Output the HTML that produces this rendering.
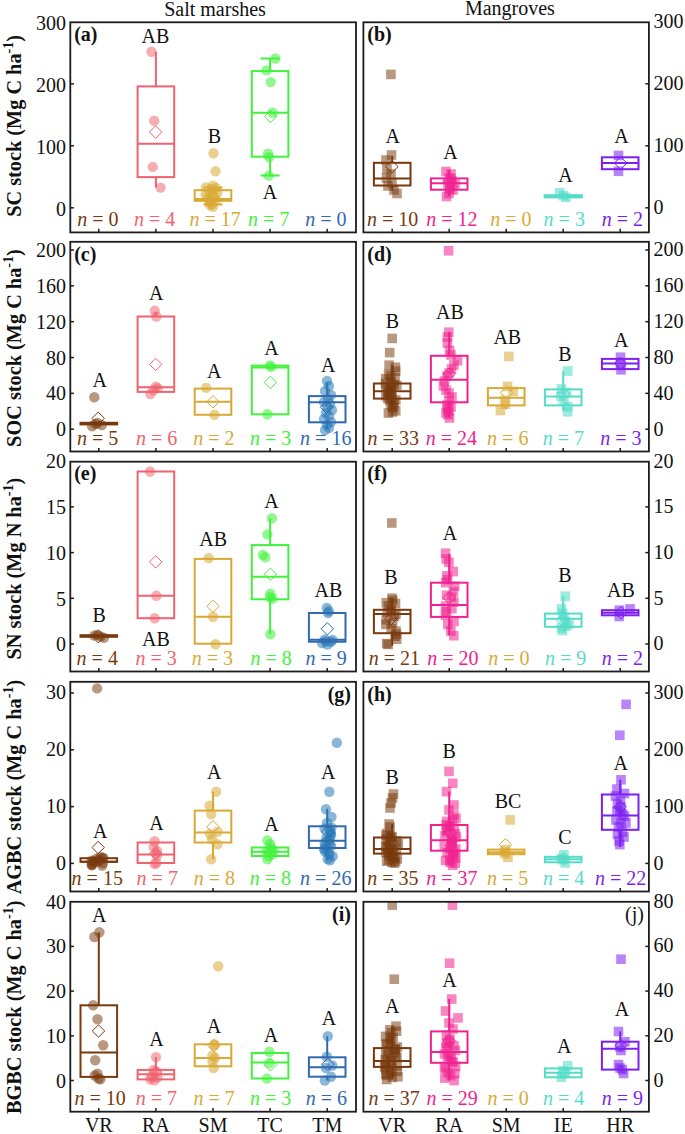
<!DOCTYPE html><html><head><meta charset="utf-8"><style>html,body{margin:0;padding:0;background:#fff;}svg{display:block}text{font-family:"Liberation Serif",serif;}</style></head><body>
<svg width="685" height="1134" viewBox="0 0 685 1134">
<rect width="685" height="1134" fill="#fff"/>
<text x="164.2" y="16" font-size="20" fill="#111">Salt marshes</text>
<text x="464.9" y="15.1" font-size="20" fill="#111">Mangroves</text>
<clipPath id="c00"><rect x="70.3" y="22.3" width="285.7" height="210.1"/></clipPath>
<g clip-path="url(#c00)">
<line x1="155.9" y1="51.8" x2="155.9" y2="86.4" stroke="#ef636e" stroke-width="2"/>
<line x1="155.9" y1="177.1" x2="155.9" y2="187.6" stroke="#ef636e" stroke-width="2"/>
<circle cx="151.5" cy="51.8" r="5.2" fill="#ef636e" fill-opacity="0.52"/>
<circle cx="154.2" cy="120.7" r="5.2" fill="#ef636e" fill-opacity="0.52"/>
<circle cx="152.8" cy="166.9" r="5.2" fill="#ef636e" fill-opacity="0.52"/>
<circle cx="160.6" cy="187.6" r="5.2" fill="#ef636e" fill-opacity="0.52"/>
<rect x="137.6" y="86.4" width="36.6" height="90.7" fill="none" stroke="#ef636e" stroke-width="2"/>
<line x1="137.6" y1="143.8" x2="174.2" y2="143.8" stroke="#ef636e" stroke-width="2"/>
<path d="M155.6 125.9L161.8 132.1L155.6 138.3L149.4 132.1Z" fill="none" stroke="#ef636e" stroke-width="1"/>
<line x1="213" y1="187.4" x2="213" y2="190.2" stroke="#d9a935" stroke-width="2"/>
<line x1="203.5" y1="187.4" x2="222.5" y2="187.4" stroke="#d9a935" stroke-width="2"/>
<line x1="213" y1="200.8" x2="213" y2="204.5" stroke="#d9a935" stroke-width="2"/>
<line x1="203.5" y1="204.5" x2="222.5" y2="204.5" stroke="#d9a935" stroke-width="2"/>
<circle cx="213.5" cy="153.3" r="5.2" fill="#d9a935" fill-opacity="0.55"/>
<circle cx="215.5" cy="171.2" r="5.2" fill="#d9a935" fill-opacity="0.55"/>
<circle cx="206" cy="187.4" r="5.2" fill="#d9a935" fill-opacity="0.55"/>
<circle cx="213" cy="185.7" r="5.2" fill="#d9a935" fill-opacity="0.55"/>
<circle cx="205.6" cy="194.4" r="5.2" fill="#d9a935" fill-opacity="0.55"/>
<circle cx="211.3" cy="192.7" r="5.2" fill="#d9a935" fill-opacity="0.55"/>
<circle cx="217.4" cy="192.7" r="5.2" fill="#d9a935" fill-opacity="0.55"/>
<circle cx="210.4" cy="199.7" r="5.2" fill="#d9a935" fill-opacity="0.55"/>
<circle cx="212.1" cy="204" r="5.2" fill="#d9a935" fill-opacity="0.55"/>
<circle cx="213" cy="206.7" r="5.2" fill="#d9a935" fill-opacity="0.55"/>
<circle cx="209" cy="202" r="5.2" fill="#d9a935" fill-opacity="0.55"/>
<circle cx="216" cy="200" r="5.2" fill="#d9a935" fill-opacity="0.55"/>
<circle cx="214" cy="197" r="5.2" fill="#d9a935" fill-opacity="0.55"/>
<circle cx="208" cy="197" r="5.2" fill="#d9a935" fill-opacity="0.55"/>
<circle cx="212" cy="189" r="5.2" fill="#d9a935" fill-opacity="0.55"/>
<circle cx="216" cy="188" r="5.2" fill="#d9a935" fill-opacity="0.55"/>
<circle cx="210" cy="205" r="5.2" fill="#d9a935" fill-opacity="0.55"/>
<rect x="194.7" y="190.2" width="36.6" height="10.6" fill="none" stroke="#d9a935" stroke-width="2"/>
<line x1="194.7" y1="199" x2="231.3" y2="199" stroke="#d9a935" stroke-width="2"/>
<path d="M212.5 189.8L218.7 196L212.5 202.2L206.3 196Z" fill="none" stroke="#d9a935" stroke-width="1"/>
<line x1="270.1" y1="58.5" x2="270.1" y2="71.1" stroke="#42f23c" stroke-width="2"/>
<line x1="260.6" y1="58.5" x2="279.6" y2="58.5" stroke="#42f23c" stroke-width="2"/>
<line x1="270.1" y1="156.7" x2="270.1" y2="175.6" stroke="#42f23c" stroke-width="2"/>
<line x1="260.6" y1="175.6" x2="279.6" y2="175.6" stroke="#42f23c" stroke-width="2"/>
<circle cx="275.4" cy="58.5" r="5.2" fill="#42f23c" fill-opacity="0.58"/>
<circle cx="266.4" cy="70.4" r="5.2" fill="#42f23c" fill-opacity="0.58"/>
<circle cx="270.7" cy="82.1" r="5.2" fill="#42f23c" fill-opacity="0.58"/>
<circle cx="272.7" cy="112.8" r="5.2" fill="#42f23c" fill-opacity="0.58"/>
<circle cx="268.1" cy="153.8" r="5.2" fill="#42f23c" fill-opacity="0.58"/>
<circle cx="269.1" cy="157.1" r="5.2" fill="#42f23c" fill-opacity="0.58"/>
<circle cx="268.7" cy="175.6" r="5.2" fill="#42f23c" fill-opacity="0.58"/>
<rect x="251.8" y="71.1" width="36.6" height="85.6" fill="none" stroke="#42f23c" stroke-width="2"/>
<line x1="251.8" y1="112.8" x2="288.4" y2="112.8" stroke="#42f23c" stroke-width="2"/>
<path d="M270.5 110.3L276.7 116.5L270.5 122.7L264.3 116.5Z" fill="none" stroke="#42f23c" stroke-width="1"/>
</g>
<text x="155.4" y="43.4" font-size="20" text-anchor="middle" fill="#111">AB</text>
<text x="214.3" y="143.2" font-size="20" text-anchor="middle" fill="#111">B</text>
<text x="270" y="198.5" font-size="20" text-anchor="middle" fill="#111">A</text>
<text x="97.95" y="226.1" font-size="20" text-anchor="middle" fill="#78390e"><tspan font-style="italic">n</tspan> = 0</text>
<text x="154.55" y="226.1" font-size="20" text-anchor="middle" fill="#ef636e"><tspan font-style="italic">n</tspan> = 4</text>
<text x="215.15" y="226.1" font-size="20" text-anchor="middle" fill="#d9a935"><tspan font-style="italic">n</tspan> = 17</text>
<text x="268.75" y="226.1" font-size="20" text-anchor="middle" fill="#42f23c"><tspan font-style="italic">n</tspan> = 7</text>
<text x="325.95" y="226.1" font-size="20" text-anchor="middle" fill="#3169b0"><tspan font-style="italic">n</tspan> = 0</text>
<rect x="70.3" y="22.3" width="285.7" height="210.1" fill="none" stroke="#1c1c1c" stroke-width="1.8"/>
<line x1="98.8" y1="232.4" x2="98.8" y2="228.8" stroke="#1c1c1c" stroke-width="1.5"/>
<line x1="155.9" y1="232.4" x2="155.9" y2="228.8" stroke="#1c1c1c" stroke-width="1.5"/>
<line x1="213" y1="232.4" x2="213" y2="228.8" stroke="#1c1c1c" stroke-width="1.5"/>
<line x1="270.1" y1="232.4" x2="270.1" y2="228.8" stroke="#1c1c1c" stroke-width="1.5"/>
<line x1="327.2" y1="232.4" x2="327.2" y2="228.8" stroke="#1c1c1c" stroke-width="1.5"/>
<line x1="70.3" y1="207.8" x2="73.9" y2="207.8" stroke="#1c1c1c" stroke-width="1.5"/>
<text x="66" y="215.8" font-size="20" text-anchor="end" fill="#111">0</text>
<line x1="70.3" y1="145.8" x2="73.9" y2="145.8" stroke="#1c1c1c" stroke-width="1.5"/>
<text x="66" y="153.8" font-size="20" text-anchor="end" fill="#111">100</text>
<line x1="70.3" y1="83.8" x2="73.9" y2="83.8" stroke="#1c1c1c" stroke-width="1.5"/>
<text x="66" y="91.8" font-size="20" text-anchor="end" fill="#111">200</text>
<text x="66" y="29.8" font-size="20" text-anchor="end" fill="#111">300</text>
<text x="74.2" y="41" font-size="20" font-weight="bold" fill="#111">(a)</text>
<clipPath id="c01"><rect x="363.4" y="22.3" width="285.5" height="210.1"/></clipPath>
<g clip-path="url(#c01)">
<line x1="392.2" y1="156" x2="392.2" y2="162.8" stroke="#78390e" stroke-width="2"/>
<line x1="392.2" y1="185.5" x2="392.2" y2="190.5" stroke="#78390e" stroke-width="2"/>
<rect x="386.1" y="69.6" width="9.6" height="9.6" fill="#78390e" fill-opacity="0.52"/>
<rect x="386.7" y="150.2" width="9.6" height="9.6" fill="#78390e" fill-opacity="0.52"/>
<rect x="381.2" y="155.2" width="9.6" height="9.6" fill="#78390e" fill-opacity="0.52"/>
<rect x="382.2" y="164.2" width="9.6" height="9.6" fill="#78390e" fill-opacity="0.52"/>
<rect x="386.2" y="169.2" width="9.6" height="9.6" fill="#78390e" fill-opacity="0.52"/>
<rect x="381.7" y="173.2" width="9.6" height="9.6" fill="#78390e" fill-opacity="0.52"/>
<rect x="387.2" y="178.2" width="9.6" height="9.6" fill="#78390e" fill-opacity="0.52"/>
<rect x="383.2" y="181.2" width="9.6" height="9.6" fill="#78390e" fill-opacity="0.52"/>
<rect x="389.2" y="185.2" width="9.6" height="9.6" fill="#78390e" fill-opacity="0.52"/>
<rect x="392.2" y="188.7" width="9.6" height="9.6" fill="#78390e" fill-opacity="0.52"/>
<rect x="373.9" y="162.8" width="36.6" height="22.7" fill="none" stroke="#78390e" stroke-width="2"/>
<line x1="373.9" y1="178.4" x2="410.5" y2="178.4" stroke="#78390e" stroke-width="2"/>
<path d="M391.9 160.5L398.1 166.7L391.9 172.9L385.7 166.7Z" fill="none" stroke="#78390e" stroke-width="1"/>
<line x1="449.2" y1="170" x2="449.2" y2="178.4" stroke="#f0228f" stroke-width="2"/>
<line x1="449.2" y1="189.7" x2="449.2" y2="196" stroke="#f0228f" stroke-width="2"/>
<rect x="441.2" y="166.7" width="9.6" height="9.6" fill="#f0228f" fill-opacity="0.55"/>
<rect x="446.2" y="169.2" width="9.6" height="9.6" fill="#f0228f" fill-opacity="0.55"/>
<rect x="444.2" y="173.2" width="9.6" height="9.6" fill="#f0228f" fill-opacity="0.55"/>
<rect x="447.2" y="176.2" width="9.6" height="9.6" fill="#f0228f" fill-opacity="0.55"/>
<rect x="443.2" y="179.2" width="9.6" height="9.6" fill="#f0228f" fill-opacity="0.55"/>
<rect x="445.2" y="182.2" width="9.6" height="9.6" fill="#f0228f" fill-opacity="0.55"/>
<rect x="448.2" y="185.2" width="9.6" height="9.6" fill="#f0228f" fill-opacity="0.55"/>
<rect x="444.2" y="188.7" width="9.6" height="9.6" fill="#f0228f" fill-opacity="0.55"/>
<rect x="441.7" y="191.7" width="9.6" height="9.6" fill="#f0228f" fill-opacity="0.55"/>
<rect x="450.2" y="179.2" width="9.6" height="9.6" fill="#f0228f" fill-opacity="0.55"/>
<rect x="446.2" y="173.7" width="9.6" height="9.6" fill="#f0228f" fill-opacity="0.55"/>
<rect x="445.2" y="184.2" width="9.6" height="9.6" fill="#f0228f" fill-opacity="0.55"/>
<rect x="430.9" y="178.4" width="36.6" height="11.3" fill="none" stroke="#f0228f" stroke-width="2"/>
<line x1="430.9" y1="183.2" x2="467.5" y2="183.2" stroke="#f0228f" stroke-width="2"/>
<path d="M449 174.8L455.2 181L449 187.2L442.8 181Z" fill="none" stroke="#f0228f" stroke-width="1"/>
<rect x="555" y="188" width="9.6" height="9.6" fill="#55dcc8" fill-opacity="0.58"/>
<rect x="561.1" y="192.6" width="9.6" height="9.6" fill="#55dcc8" fill-opacity="0.58"/>
<rect x="558.5" y="190.8" width="9.6" height="9.6" fill="#55dcc8" fill-opacity="0.58"/>
<rect x="544.6" y="195.2" width="37.2" height="2.2" fill="none" stroke="#55dcc8" stroke-width="2"/>
<line x1="544.6" y1="196.3" x2="581.8" y2="196.3" stroke="#55dcc8" stroke-width="2"/>
<rect x="613.7" y="150.7" width="9.6" height="9.6" fill="#7d1ff0" fill-opacity="0.55"/>
<rect x="613.7" y="166.5" width="9.6" height="9.6" fill="#7d1ff0" fill-opacity="0.55"/>
<rect x="601.9" y="157.3" width="36.6" height="11.9" fill="none" stroke="#7d1ff0" stroke-width="2"/>
<line x1="601.9" y1="163.1" x2="638.5" y2="163.1" stroke="#7d1ff0" stroke-width="2"/>
<path d="M620.6 156.9L626.8 163.1L620.6 169.3L614.4 163.1Z" fill="none" stroke="#7d1ff0" stroke-width="1"/>
</g>
<text x="392.7" y="142.7" font-size="20" text-anchor="middle" fill="#111">A</text>
<text x="450.5" y="159" font-size="20" text-anchor="middle" fill="#111">A</text>
<text x="565.4" y="182.2" font-size="20" text-anchor="middle" fill="#111">A</text>
<text x="621.4" y="143.3" font-size="20" text-anchor="middle" fill="#111">A</text>
<text x="392.55" y="226.1" font-size="20" text-anchor="middle" fill="#78390e"><tspan font-style="italic">n</tspan> = 10</text>
<text x="451.9" y="226.1" font-size="20" text-anchor="middle" fill="#f0228f"><tspan font-style="italic">n</tspan> = 12</text>
<text x="510.8" y="226.1" font-size="20" text-anchor="middle" fill="#d9a935"><tspan font-style="italic">n</tspan> = 0</text>
<text x="564.25" y="226.1" font-size="20" text-anchor="middle" fill="#55dcc8"><tspan font-style="italic">n</tspan> = 3</text>
<text x="622.35" y="226.1" font-size="20" text-anchor="middle" fill="#7d1ff0"><tspan font-style="italic">n</tspan> = 2</text>
<rect x="363.4" y="22.3" width="285.5" height="210.1" fill="none" stroke="#1c1c1c" stroke-width="1.8"/>
<line x1="392.2" y1="232.4" x2="392.2" y2="228.8" stroke="#1c1c1c" stroke-width="1.5"/>
<line x1="449.2" y1="232.4" x2="449.2" y2="228.8" stroke="#1c1c1c" stroke-width="1.5"/>
<line x1="506.2" y1="232.4" x2="506.2" y2="228.8" stroke="#1c1c1c" stroke-width="1.5"/>
<line x1="563.2" y1="232.4" x2="563.2" y2="228.8" stroke="#1c1c1c" stroke-width="1.5"/>
<line x1="620.2" y1="232.4" x2="620.2" y2="228.8" stroke="#1c1c1c" stroke-width="1.5"/>
<line x1="648.9" y1="207.8" x2="645.3" y2="207.8" stroke="#1c1c1c" stroke-width="1.5"/>
<text x="653.6" y="214.4" font-size="20" fill="#111">0</text>
<line x1="648.9" y1="145.8" x2="645.3" y2="145.8" stroke="#1c1c1c" stroke-width="1.5"/>
<text x="653.6" y="152.4" font-size="20" fill="#111">100</text>
<line x1="648.9" y1="83.8" x2="645.3" y2="83.8" stroke="#1c1c1c" stroke-width="1.5"/>
<text x="653.6" y="90.4" font-size="20" fill="#111">200</text>
<text x="653.6" y="28.4" font-size="20" fill="#111">300</text>
<text x="367.3" y="41" font-size="20" font-weight="bold" fill="#111">(b)</text>
<clipPath id="c10"><rect x="70.3" y="241.8" width="285.7" height="209.7"/></clipPath>
<g clip-path="url(#c10)">
<circle cx="94.3" cy="397.2" r="5.2" fill="#78390e" fill-opacity="0.52"/>
<circle cx="95.4" cy="424" r="5.2" fill="#78390e" fill-opacity="0.52"/>
<circle cx="101.8" cy="425.1" r="5.2" fill="#78390e" fill-opacity="0.52"/>
<circle cx="92.2" cy="426.2" r="5.2" fill="#78390e" fill-opacity="0.52"/>
<circle cx="97.5" cy="423" r="5.2" fill="#78390e" fill-opacity="0.52"/>
<rect x="80.5" y="422.8" width="36.6" height="1.6" fill="none" stroke="#78390e" stroke-width="2"/>
<line x1="80.5" y1="423.6" x2="117.1" y2="423.6" stroke="#78390e" stroke-width="2"/>
<path d="M98.2 412.1L104.4 418.3L98.2 424.5L92 418.3Z" fill="none" stroke="#78390e" stroke-width="1"/>
<line x1="155.9" y1="311.9" x2="155.9" y2="316.5" stroke="#ef636e" stroke-width="2"/>
<circle cx="154.7" cy="310.8" r="5.2" fill="#ef636e" fill-opacity="0.52"/>
<circle cx="156.4" cy="316.5" r="5.2" fill="#ef636e" fill-opacity="0.52"/>
<circle cx="155.7" cy="386.6" r="5.2" fill="#ef636e" fill-opacity="0.52"/>
<circle cx="157.8" cy="388.1" r="5.2" fill="#ef636e" fill-opacity="0.52"/>
<circle cx="150.4" cy="394" r="5.2" fill="#ef636e" fill-opacity="0.52"/>
<circle cx="153.6" cy="390.2" r="5.2" fill="#ef636e" fill-opacity="0.52"/>
<rect x="137.6" y="316.5" width="36.6" height="75.4" fill="none" stroke="#ef636e" stroke-width="2"/>
<line x1="137.6" y1="387.2" x2="174.2" y2="387.2" stroke="#ef636e" stroke-width="2"/>
<path d="M155.7 358.2L161.9 364.4L155.7 370.6L149.5 364.4Z" fill="none" stroke="#ef636e" stroke-width="1"/>
<circle cx="206.2" cy="387.9" r="5.2" fill="#d9a935" fill-opacity="0.55"/>
<circle cx="214.5" cy="414.8" r="5.2" fill="#d9a935" fill-opacity="0.55"/>
<rect x="194.7" y="388.6" width="36.6" height="26.2" fill="none" stroke="#d9a935" stroke-width="2"/>
<line x1="194.7" y1="401.8" x2="231.3" y2="401.8" stroke="#d9a935" stroke-width="2"/>
<path d="M213 395.6L219.2 401.8L213 408L206.8 401.8Z" fill="none" stroke="#d9a935" stroke-width="1"/>
<circle cx="269.9" cy="365.4" r="5.2" fill="#42f23c" fill-opacity="0.58"/>
<circle cx="271.1" cy="366.9" r="5.2" fill="#42f23c" fill-opacity="0.58"/>
<circle cx="267.4" cy="414.3" r="5.2" fill="#42f23c" fill-opacity="0.58"/>
<rect x="251.8" y="365.6" width="36.6" height="48.7" fill="none" stroke="#42f23c" stroke-width="2"/>
<line x1="251.8" y1="367.6" x2="288.4" y2="367.6" stroke="#42f23c" stroke-width="2"/>
<path d="M270.4 376.2L276.6 382.4L270.4 388.6L264.2 382.4Z" fill="none" stroke="#42f23c" stroke-width="1"/>
<line x1="327.2" y1="382.4" x2="327.2" y2="396.1" stroke="#3169b0" stroke-width="2"/>
<line x1="327.2" y1="422.3" x2="327.2" y2="429" stroke="#3169b0" stroke-width="2"/>
<circle cx="327" cy="381" r="5.2" fill="#2a7cb8" fill-opacity="0.55"/>
<circle cx="329" cy="386" r="5.2" fill="#2a7cb8" fill-opacity="0.55"/>
<circle cx="325" cy="391" r="5.2" fill="#2a7cb8" fill-opacity="0.55"/>
<circle cx="331" cy="395" r="5.2" fill="#2a7cb8" fill-opacity="0.55"/>
<circle cx="328" cy="399" r="5.2" fill="#2a7cb8" fill-opacity="0.55"/>
<circle cx="324" cy="402" r="5.2" fill="#2a7cb8" fill-opacity="0.55"/>
<circle cx="330" cy="404" r="5.2" fill="#2a7cb8" fill-opacity="0.55"/>
<circle cx="327" cy="407" r="5.2" fill="#2a7cb8" fill-opacity="0.55"/>
<circle cx="332" cy="410" r="5.2" fill="#2a7cb8" fill-opacity="0.55"/>
<circle cx="326" cy="413" r="5.2" fill="#2a7cb8" fill-opacity="0.55"/>
<circle cx="329" cy="416" r="5.2" fill="#2a7cb8" fill-opacity="0.55"/>
<circle cx="324" cy="419" r="5.2" fill="#2a7cb8" fill-opacity="0.55"/>
<circle cx="331" cy="422" r="5.2" fill="#2a7cb8" fill-opacity="0.55"/>
<circle cx="327" cy="425" r="5.2" fill="#2a7cb8" fill-opacity="0.55"/>
<circle cx="329" cy="428" r="5.2" fill="#2a7cb8" fill-opacity="0.55"/>
<circle cx="325" cy="430" r="5.2" fill="#2a7cb8" fill-opacity="0.55"/>
<rect x="308.9" y="396.1" width="36.6" height="26.2" fill="none" stroke="#3169b0" stroke-width="2"/>
<line x1="308.9" y1="402.3" x2="345.5" y2="402.3" stroke="#3169b0" stroke-width="2"/>
<path d="M326.5 401.1L332.7 407.3L326.5 413.5L320.3 407.3Z" fill="none" stroke="#3169b0" stroke-width="1"/>
</g>
<text x="99.7" y="387" font-size="20" text-anchor="middle" fill="#111">A</text>
<text x="156.3" y="300.2" font-size="20" text-anchor="middle" fill="#111">A</text>
<text x="214.3" y="377.9" font-size="20" text-anchor="middle" fill="#111">A</text>
<text x="271.4" y="354.9" font-size="20" text-anchor="middle" fill="#111">A</text>
<text x="328.3" y="372.4" font-size="20" text-anchor="middle" fill="#111">A</text>
<text x="97.55" y="445.2" font-size="20" text-anchor="middle" fill="#78390e"><tspan font-style="italic">n</tspan> = 5</text>
<text x="156.55" y="445.2" font-size="20" text-anchor="middle" fill="#ef636e"><tspan font-style="italic">n</tspan> = 6</text>
<text x="213.85" y="445.2" font-size="20" text-anchor="middle" fill="#d9a935"><tspan font-style="italic">n</tspan> = 2</text>
<text x="270.55" y="445.2" font-size="20" text-anchor="middle" fill="#42f23c"><tspan font-style="italic">n</tspan> = 3</text>
<text x="325.75" y="445.2" font-size="20" text-anchor="middle" fill="#3169b0"><tspan font-style="italic">n</tspan> = 16</text>
<rect x="70.3" y="241.8" width="285.7" height="209.7" fill="none" stroke="#1c1c1c" stroke-width="1.8"/>
<line x1="98.8" y1="451.5" x2="98.8" y2="447.9" stroke="#1c1c1c" stroke-width="1.5"/>
<line x1="155.9" y1="451.5" x2="155.9" y2="447.9" stroke="#1c1c1c" stroke-width="1.5"/>
<line x1="213" y1="451.5" x2="213" y2="447.9" stroke="#1c1c1c" stroke-width="1.5"/>
<line x1="270.1" y1="451.5" x2="270.1" y2="447.9" stroke="#1c1c1c" stroke-width="1.5"/>
<line x1="327.2" y1="451.5" x2="327.2" y2="447.9" stroke="#1c1c1c" stroke-width="1.5"/>
<line x1="70.3" y1="429.2" x2="73.9" y2="429.2" stroke="#1c1c1c" stroke-width="1.5"/>
<text x="66" y="436.3" font-size="20" text-anchor="end" fill="#111">0</text>
<line x1="70.3" y1="393.36" x2="73.9" y2="393.36" stroke="#1c1c1c" stroke-width="1.5"/>
<text x="66" y="400.46" font-size="20" text-anchor="end" fill="#111">40</text>
<line x1="70.3" y1="357.52" x2="73.9" y2="357.52" stroke="#1c1c1c" stroke-width="1.5"/>
<text x="66" y="364.62" font-size="20" text-anchor="end" fill="#111">80</text>
<line x1="70.3" y1="321.68" x2="73.9" y2="321.68" stroke="#1c1c1c" stroke-width="1.5"/>
<text x="66" y="328.78" font-size="20" text-anchor="end" fill="#111">120</text>
<line x1="70.3" y1="285.84" x2="73.9" y2="285.84" stroke="#1c1c1c" stroke-width="1.5"/>
<text x="66" y="292.94" font-size="20" text-anchor="end" fill="#111">160</text>
<line x1="70.3" y1="250" x2="73.9" y2="250" stroke="#1c1c1c" stroke-width="1.5"/>
<text x="66" y="257.1" font-size="20" text-anchor="end" fill="#111">200</text>
<text x="74.2" y="260.5" font-size="20" font-weight="bold" fill="#111">(c)</text>
<clipPath id="c11"><rect x="363.4" y="241.8" width="285.5" height="209.7"/></clipPath>
<g clip-path="url(#c11)">
<line x1="392.2" y1="365.2" x2="392.2" y2="383.5" stroke="#78390e" stroke-width="2"/>
<line x1="392.2" y1="398.6" x2="392.2" y2="407" stroke="#78390e" stroke-width="2"/>
<rect x="387.4" y="333.6" width="9.6" height="9.6" fill="#78390e" fill-opacity="0.52"/>
<rect x="384.9" y="347.8" width="9.6" height="9.6" fill="#78390e" fill-opacity="0.52"/>
<rect x="384.3" y="360.4" width="9.6" height="9.6" fill="#78390e" fill-opacity="0.52"/>
<rect x="390.6" y="362.5" width="9.6" height="9.6" fill="#78390e" fill-opacity="0.52"/>
<rect x="390.9" y="366.4" width="9.6" height="9.6" fill="#78390e" fill-opacity="0.52"/>
<rect x="383.8" y="369.5" width="9.6" height="9.6" fill="#78390e" fill-opacity="0.52"/>
<rect x="386.1" y="370.8" width="9.6" height="9.6" fill="#78390e" fill-opacity="0.52"/>
<rect x="390.2" y="373" width="9.6" height="9.6" fill="#78390e" fill-opacity="0.52"/>
<rect x="381" y="373.8" width="9.6" height="9.6" fill="#78390e" fill-opacity="0.52"/>
<rect x="385.9" y="377" width="9.6" height="9.6" fill="#78390e" fill-opacity="0.52"/>
<rect x="380.7" y="378.8" width="9.6" height="9.6" fill="#78390e" fill-opacity="0.52"/>
<rect x="389.4" y="379.7" width="9.6" height="9.6" fill="#78390e" fill-opacity="0.52"/>
<rect x="392" y="380.6" width="9.6" height="9.6" fill="#78390e" fill-opacity="0.52"/>
<rect x="381.1" y="382.5" width="9.6" height="9.6" fill="#78390e" fill-opacity="0.52"/>
<rect x="387.2" y="382.6" width="9.6" height="9.6" fill="#78390e" fill-opacity="0.52"/>
<rect x="385.3" y="384.8" width="9.6" height="9.6" fill="#78390e" fill-opacity="0.52"/>
<rect x="385.8" y="385.1" width="9.6" height="9.6" fill="#78390e" fill-opacity="0.52"/>
<rect x="383.4" y="386" width="9.6" height="9.6" fill="#78390e" fill-opacity="0.52"/>
<rect x="386.6" y="387.6" width="9.6" height="9.6" fill="#78390e" fill-opacity="0.52"/>
<rect x="383.5" y="388.5" width="9.6" height="9.6" fill="#78390e" fill-opacity="0.52"/>
<rect x="386.2" y="389.6" width="9.6" height="9.6" fill="#78390e" fill-opacity="0.52"/>
<rect x="381" y="390.9" width="9.6" height="9.6" fill="#78390e" fill-opacity="0.52"/>
<rect x="387.4" y="392.6" width="9.6" height="9.6" fill="#78390e" fill-opacity="0.52"/>
<rect x="382.9" y="393.5" width="9.6" height="9.6" fill="#78390e" fill-opacity="0.52"/>
<rect x="391" y="395.1" width="9.6" height="9.6" fill="#78390e" fill-opacity="0.52"/>
<rect x="384.7" y="395.2" width="9.6" height="9.6" fill="#78390e" fill-opacity="0.52"/>
<rect x="389.2" y="397.6" width="9.6" height="9.6" fill="#78390e" fill-opacity="0.52"/>
<rect x="385.8" y="400.1" width="9.6" height="9.6" fill="#78390e" fill-opacity="0.52"/>
<rect x="388.7" y="401.9" width="9.6" height="9.6" fill="#78390e" fill-opacity="0.52"/>
<rect x="387.8" y="402.8" width="9.6" height="9.6" fill="#78390e" fill-opacity="0.52"/>
<rect x="390.9" y="406" width="9.6" height="9.6" fill="#78390e" fill-opacity="0.52"/>
<rect x="387.8" y="407.2" width="9.6" height="9.6" fill="#78390e" fill-opacity="0.52"/>
<rect x="383.6" y="408.3" width="9.6" height="9.6" fill="#78390e" fill-opacity="0.52"/>
<rect x="373.9" y="383.5" width="36.6" height="15.1" fill="none" stroke="#78390e" stroke-width="2"/>
<line x1="373.9" y1="391.3" x2="410.5" y2="391.3" stroke="#78390e" stroke-width="2"/>
<path d="M392 377.8L398.2 384L392 390.2L385.8 384Z" fill="none" stroke="#78390e" stroke-width="1"/>
<line x1="449.2" y1="331.8" x2="449.2" y2="355.8" stroke="#f0228f" stroke-width="2"/>
<line x1="449.2" y1="402.3" x2="449.2" y2="417.4" stroke="#f0228f" stroke-width="2"/>
<rect x="443.8" y="246" width="9.6" height="9.6" fill="#f0228f" fill-opacity="0.55"/>
<rect x="444" y="327.4" width="9.6" height="9.6" fill="#f0228f" fill-opacity="0.55"/>
<rect x="442.6" y="332.2" width="9.6" height="9.6" fill="#f0228f" fill-opacity="0.55"/>
<rect x="442.6" y="338.3" width="9.6" height="9.6" fill="#f0228f" fill-opacity="0.55"/>
<rect x="444.8" y="345.6" width="9.6" height="9.6" fill="#f0228f" fill-opacity="0.55"/>
<rect x="446.2" y="350.2" width="9.6" height="9.6" fill="#f0228f" fill-opacity="0.55"/>
<rect x="452.8" y="355.9" width="9.6" height="9.6" fill="#f0228f" fill-opacity="0.55"/>
<rect x="449.1" y="360.2" width="9.6" height="9.6" fill="#f0228f" fill-opacity="0.55"/>
<rect x="446.7" y="364.2" width="9.6" height="9.6" fill="#f0228f" fill-opacity="0.55"/>
<rect x="444.2" y="368.2" width="9.6" height="9.6" fill="#f0228f" fill-opacity="0.55"/>
<rect x="442.2" y="371.2" width="9.6" height="9.6" fill="#f0228f" fill-opacity="0.55"/>
<rect x="439.7" y="376.2" width="9.6" height="9.6" fill="#f0228f" fill-opacity="0.55"/>
<rect x="438.7" y="381.2" width="9.6" height="9.6" fill="#f0228f" fill-opacity="0.55"/>
<rect x="441.2" y="385.2" width="9.6" height="9.6" fill="#f0228f" fill-opacity="0.55"/>
<rect x="444.2" y="388.2" width="9.6" height="9.6" fill="#f0228f" fill-opacity="0.55"/>
<rect x="447.2" y="392.2" width="9.6" height="9.6" fill="#f0228f" fill-opacity="0.55"/>
<rect x="444.2" y="396.2" width="9.6" height="9.6" fill="#f0228f" fill-opacity="0.55"/>
<rect x="442.2" y="400.2" width="9.6" height="9.6" fill="#f0228f" fill-opacity="0.55"/>
<rect x="442.6" y="404" width="9.6" height="9.6" fill="#f0228f" fill-opacity="0.55"/>
<rect x="444.2" y="406.2" width="9.6" height="9.6" fill="#f0228f" fill-opacity="0.55"/>
<rect x="443.3" y="409.9" width="9.6" height="9.6" fill="#f0228f" fill-opacity="0.55"/>
<rect x="441.2" y="408.2" width="9.6" height="9.6" fill="#f0228f" fill-opacity="0.55"/>
<rect x="444.7" y="413.2" width="9.6" height="9.6" fill="#f0228f" fill-opacity="0.55"/>
<rect x="446.2" y="402.2" width="9.6" height="9.6" fill="#f0228f" fill-opacity="0.55"/>
<rect x="430.9" y="355.8" width="36.6" height="46.5" fill="none" stroke="#f0228f" stroke-width="2"/>
<line x1="430.9" y1="379.8" x2="467.5" y2="379.8" stroke="#f0228f" stroke-width="2"/>
<path d="M449.2 367.8L455.4 374L449.2 380.2L443 374Z" fill="none" stroke="#f0228f" stroke-width="1"/>
<line x1="506.2" y1="405.4" x2="506.2" y2="409.2" stroke="#d9a935" stroke-width="2"/>
<rect x="504" y="351.6" width="9.6" height="9.6" fill="#d9a935" fill-opacity="0.55"/>
<rect x="502.7" y="381.6" width="9.6" height="9.6" fill="#d9a935" fill-opacity="0.55"/>
<rect x="508.3" y="386.6" width="9.6" height="9.6" fill="#d9a935" fill-opacity="0.55"/>
<rect x="500.2" y="395.5" width="9.6" height="9.6" fill="#d9a935" fill-opacity="0.55"/>
<rect x="500.7" y="399.3" width="9.6" height="9.6" fill="#d9a935" fill-opacity="0.55"/>
<rect x="495.6" y="405.7" width="9.6" height="9.6" fill="#d9a935" fill-opacity="0.55"/>
<rect x="487.9" y="388.1" width="36.6" height="17.3" fill="none" stroke="#d9a935" stroke-width="2"/>
<line x1="487.9" y1="397.8" x2="524.5" y2="397.8" stroke="#d9a935" stroke-width="2"/>
<path d="M506.7 386.5L512.9 392.7L506.7 398.9L500.5 392.7Z" fill="none" stroke="#d9a935" stroke-width="1"/>
<line x1="563.2" y1="371.1" x2="563.2" y2="389.4" stroke="#55dcc8" stroke-width="2"/>
<line x1="563.2" y1="405.4" x2="563.2" y2="410.5" stroke="#55dcc8" stroke-width="2"/>
<rect x="562.9" y="366.3" width="9.6" height="9.6" fill="#55dcc8" fill-opacity="0.58"/>
<rect x="556.6" y="384.1" width="9.6" height="9.6" fill="#55dcc8" fill-opacity="0.58"/>
<rect x="561.7" y="387.7" width="9.6" height="9.6" fill="#55dcc8" fill-opacity="0.58"/>
<rect x="556.2" y="391.7" width="9.6" height="9.6" fill="#55dcc8" fill-opacity="0.58"/>
<rect x="559.2" y="395.7" width="9.6" height="9.6" fill="#55dcc8" fill-opacity="0.58"/>
<rect x="562.9" y="401.9" width="9.6" height="9.6" fill="#55dcc8" fill-opacity="0.58"/>
<rect x="562.9" y="407" width="9.6" height="9.6" fill="#55dcc8" fill-opacity="0.58"/>
<rect x="544.9" y="389.4" width="36.6" height="16" fill="none" stroke="#55dcc8" stroke-width="2"/>
<line x1="544.9" y1="396.5" x2="581.5" y2="396.5" stroke="#55dcc8" stroke-width="2"/>
<path d="M563.9 387.8L570.1 394L563.9 400.2L557.7 394Z" fill="none" stroke="#55dcc8" stroke-width="1"/>
<rect x="615.7" y="352.4" width="9.6" height="9.6" fill="#7d1ff0" fill-opacity="0.55"/>
<rect x="615.7" y="360" width="9.6" height="9.6" fill="#7d1ff0" fill-opacity="0.55"/>
<rect x="616.2" y="365" width="9.6" height="9.6" fill="#7d1ff0" fill-opacity="0.55"/>
<rect x="601.9" y="358.9" width="36.6" height="10.2" fill="none" stroke="#7d1ff0" stroke-width="2"/>
<line x1="601.9" y1="363.5" x2="638.5" y2="363.5" stroke="#7d1ff0" stroke-width="2"/>
<path d="M620.6 357.3L626.8 363.5L620.6 369.7L614.4 363.5Z" fill="none" stroke="#7d1ff0" stroke-width="1"/>
</g>
<text x="392.5" y="327.6" font-size="20" text-anchor="middle" fill="#111">B</text>
<text x="450" y="318.8" font-size="20" text-anchor="middle" fill="#111">AB</text>
<text x="507.3" y="344.4" font-size="20" text-anchor="middle" fill="#111">AB</text>
<text x="565" y="361" font-size="20" text-anchor="middle" fill="#111">B</text>
<text x="621.3" y="347" font-size="20" text-anchor="middle" fill="#111">A</text>
<text x="393.25" y="445.2" font-size="20" text-anchor="middle" fill="#78390e"><tspan font-style="italic">n</tspan> = 33</text>
<text x="451.4" y="445.2" font-size="20" text-anchor="middle" fill="#f0228f"><tspan font-style="italic">n</tspan> = 24</text>
<text x="507.75" y="445.2" font-size="20" text-anchor="middle" fill="#d9a935"><tspan font-style="italic">n</tspan> = 6</text>
<text x="563.35" y="445.2" font-size="20" text-anchor="middle" fill="#55dcc8"><tspan font-style="italic">n</tspan> = 7</text>
<text x="620.85" y="445.2" font-size="20" text-anchor="middle" fill="#7d1ff0"><tspan font-style="italic">n</tspan> = 3</text>
<rect x="363.4" y="241.8" width="285.5" height="209.7" fill="none" stroke="#1c1c1c" stroke-width="1.8"/>
<line x1="392.2" y1="451.5" x2="392.2" y2="447.9" stroke="#1c1c1c" stroke-width="1.5"/>
<line x1="449.2" y1="451.5" x2="449.2" y2="447.9" stroke="#1c1c1c" stroke-width="1.5"/>
<line x1="506.2" y1="451.5" x2="506.2" y2="447.9" stroke="#1c1c1c" stroke-width="1.5"/>
<line x1="563.2" y1="451.5" x2="563.2" y2="447.9" stroke="#1c1c1c" stroke-width="1.5"/>
<line x1="620.2" y1="451.5" x2="620.2" y2="447.9" stroke="#1c1c1c" stroke-width="1.5"/>
<line x1="648.9" y1="429.2" x2="645.3" y2="429.2" stroke="#1c1c1c" stroke-width="1.5"/>
<text x="653.6" y="435.5" font-size="20" fill="#111">0</text>
<line x1="648.9" y1="393.36" x2="645.3" y2="393.36" stroke="#1c1c1c" stroke-width="1.5"/>
<text x="653.6" y="399.66" font-size="20" fill="#111">40</text>
<line x1="648.9" y1="357.52" x2="645.3" y2="357.52" stroke="#1c1c1c" stroke-width="1.5"/>
<text x="653.6" y="363.82" font-size="20" fill="#111">80</text>
<line x1="648.9" y1="321.68" x2="645.3" y2="321.68" stroke="#1c1c1c" stroke-width="1.5"/>
<text x="653.6" y="327.98" font-size="20" fill="#111">120</text>
<line x1="648.9" y1="285.84" x2="645.3" y2="285.84" stroke="#1c1c1c" stroke-width="1.5"/>
<text x="653.6" y="292.14" font-size="20" fill="#111">160</text>
<line x1="648.9" y1="250" x2="645.3" y2="250" stroke="#1c1c1c" stroke-width="1.5"/>
<text x="653.6" y="256.3" font-size="20" fill="#111">200</text>
<text x="367.3" y="260.5" font-size="20" font-weight="bold" fill="#111">(d)</text>
<clipPath id="c20"><rect x="70.3" y="461.7" width="285.7" height="209.8"/></clipPath>
<g clip-path="url(#c20)">
<circle cx="94.3" cy="635.6" r="5.2" fill="#78390e" fill-opacity="0.52"/>
<circle cx="97.5" cy="634.8" r="5.2" fill="#78390e" fill-opacity="0.52"/>
<circle cx="100.6" cy="636.6" r="5.2" fill="#78390e" fill-opacity="0.52"/>
<circle cx="103.9" cy="637.7" r="5.2" fill="#78390e" fill-opacity="0.52"/>
<rect x="80.5" y="635.2" width="36.6" height="1.6" fill="none" stroke="#78390e" stroke-width="2"/>
<line x1="80.5" y1="636" x2="117.1" y2="636" stroke="#78390e" stroke-width="2"/>
<path d="M98.2 630.4L104.4 636.6L98.2 642.8L92 636.6Z" fill="none" stroke="#78390e" stroke-width="1"/>
<circle cx="150" cy="471.5" r="5.2" fill="#ef636e" fill-opacity="0.52"/>
<circle cx="156.4" cy="595.8" r="5.2" fill="#ef636e" fill-opacity="0.52"/>
<circle cx="154.7" cy="618.2" r="5.2" fill="#ef636e" fill-opacity="0.52"/>
<rect x="137.6" y="471.5" width="36.6" height="146.7" fill="none" stroke="#ef636e" stroke-width="2"/>
<line x1="137.6" y1="595.8" x2="174.2" y2="595.8" stroke="#ef636e" stroke-width="2"/>
<path d="M155.7 555.7L161.9 561.9L155.7 568.1L149.5 561.9Z" fill="none" stroke="#ef636e" stroke-width="1"/>
<circle cx="208.7" cy="558.1" r="5.2" fill="#d9a935" fill-opacity="0.55"/>
<circle cx="213" cy="616.8" r="5.2" fill="#d9a935" fill-opacity="0.55"/>
<circle cx="215.5" cy="644.2" r="5.2" fill="#d9a935" fill-opacity="0.55"/>
<rect x="194.7" y="558.9" width="36.6" height="84.8" fill="none" stroke="#d9a935" stroke-width="2"/>
<line x1="194.7" y1="616.8" x2="231.3" y2="616.8" stroke="#d9a935" stroke-width="2"/>
<path d="M213 600.1L219.2 606.3L213 612.5L206.8 606.3Z" fill="none" stroke="#d9a935" stroke-width="1"/>
<line x1="270.1" y1="518.2" x2="270.1" y2="545.1" stroke="#42f23c" stroke-width="2"/>
<line x1="270.1" y1="599.3" x2="270.1" y2="634.2" stroke="#42f23c" stroke-width="2"/>
<circle cx="271.9" cy="518.2" r="5.2" fill="#42f23c" fill-opacity="0.58"/>
<circle cx="267.4" cy="534.4" r="5.2" fill="#42f23c" fill-opacity="0.58"/>
<circle cx="262.9" cy="554.9" r="5.2" fill="#42f23c" fill-opacity="0.58"/>
<circle cx="265.4" cy="557.4" r="5.2" fill="#42f23c" fill-opacity="0.58"/>
<circle cx="270.4" cy="593.8" r="5.2" fill="#42f23c" fill-opacity="0.58"/>
<circle cx="272.4" cy="598.8" r="5.2" fill="#42f23c" fill-opacity="0.58"/>
<circle cx="270" cy="597" r="5.2" fill="#42f23c" fill-opacity="0.58"/>
<circle cx="270.4" cy="634.2" r="5.2" fill="#42f23c" fill-opacity="0.58"/>
<rect x="251.8" y="545.1" width="36.6" height="54.2" fill="none" stroke="#42f23c" stroke-width="2"/>
<line x1="251.8" y1="576.8" x2="288.4" y2="576.8" stroke="#42f23c" stroke-width="2"/>
<path d="M270.4 568.1L276.6 574.3L270.4 580.5L264.2 574.3Z" fill="none" stroke="#42f23c" stroke-width="1"/>
<circle cx="326.8" cy="608" r="5.2" fill="#2a7cb8" fill-opacity="0.55"/>
<circle cx="328" cy="613" r="5.2" fill="#2a7cb8" fill-opacity="0.55"/>
<circle cx="326" cy="641.2" r="5.2" fill="#2a7cb8" fill-opacity="0.55"/>
<circle cx="331" cy="641.8" r="5.2" fill="#2a7cb8" fill-opacity="0.55"/>
<circle cx="322" cy="643" r="5.2" fill="#2a7cb8" fill-opacity="0.55"/>
<circle cx="327.5" cy="644.5" r="5.2" fill="#2a7cb8" fill-opacity="0.55"/>
<circle cx="332.5" cy="640" r="5.2" fill="#2a7cb8" fill-opacity="0.55"/>
<circle cx="328.8" cy="611" r="5.2" fill="#2a7cb8" fill-opacity="0.55"/>
<circle cx="324.8" cy="639.5" r="5.2" fill="#2a7cb8" fill-opacity="0.55"/>
<rect x="308.9" y="613" width="36.6" height="28.7" fill="none" stroke="#3169b0" stroke-width="2"/>
<line x1="308.9" y1="639.7" x2="345.5" y2="639.7" stroke="#3169b0" stroke-width="2"/>
<path d="M327.3 622.6L333.5 628.8L327.3 635L321.1 628.8Z" fill="none" stroke="#3169b0" stroke-width="1"/>
</g>
<text x="99.1" y="621.8" font-size="20" text-anchor="middle" fill="#111">B</text>
<text x="156" y="645.7" font-size="20" text-anchor="middle" fill="#111">AB</text>
<text x="213.1" y="545.6" font-size="20" text-anchor="middle" fill="#111">AB</text>
<text x="271.4" y="507.7" font-size="20" text-anchor="middle" fill="#111">A</text>
<text x="328.5" y="596.8" font-size="20" text-anchor="middle" fill="#111">AB</text>
<text x="97.25" y="665.2" font-size="20" text-anchor="middle" fill="#78390e"><tspan font-style="italic">n</tspan> = 4</text>
<text x="156.15" y="665.2" font-size="20" text-anchor="middle" fill="#ef636e"><tspan font-style="italic">n</tspan> = 3</text>
<text x="212.45" y="665.2" font-size="20" text-anchor="middle" fill="#d9a935"><tspan font-style="italic">n</tspan> = 3</text>
<text x="271.05" y="665.2" font-size="20" text-anchor="middle" fill="#42f23c"><tspan font-style="italic">n</tspan> = 8</text>
<text x="326.05" y="665.2" font-size="20" text-anchor="middle" fill="#3169b0"><tspan font-style="italic">n</tspan> = 9</text>
<rect x="70.3" y="461.7" width="285.7" height="209.8" fill="none" stroke="#1c1c1c" stroke-width="1.8"/>
<line x1="98.8" y1="671.5" x2="98.8" y2="667.9" stroke="#1c1c1c" stroke-width="1.5"/>
<line x1="155.9" y1="671.5" x2="155.9" y2="667.9" stroke="#1c1c1c" stroke-width="1.5"/>
<line x1="213" y1="671.5" x2="213" y2="667.9" stroke="#1c1c1c" stroke-width="1.5"/>
<line x1="270.1" y1="671.5" x2="270.1" y2="667.9" stroke="#1c1c1c" stroke-width="1.5"/>
<line x1="327.2" y1="671.5" x2="327.2" y2="667.9" stroke="#1c1c1c" stroke-width="1.5"/>
<line x1="70.3" y1="644" x2="73.9" y2="644" stroke="#1c1c1c" stroke-width="1.5"/>
<text x="66" y="651.2" font-size="20" text-anchor="end" fill="#111">0</text>
<line x1="70.3" y1="598.3" x2="73.9" y2="598.3" stroke="#1c1c1c" stroke-width="1.5"/>
<text x="66" y="605.5" font-size="20" text-anchor="end" fill="#111">5</text>
<line x1="70.3" y1="552.6" x2="73.9" y2="552.6" stroke="#1c1c1c" stroke-width="1.5"/>
<text x="66" y="559.8" font-size="20" text-anchor="end" fill="#111">10</text>
<line x1="70.3" y1="506.9" x2="73.9" y2="506.9" stroke="#1c1c1c" stroke-width="1.5"/>
<text x="66" y="514.1" font-size="20" text-anchor="end" fill="#111">15</text>
<text x="66" y="468.4" font-size="20" text-anchor="end" fill="#111">20</text>
<text x="74.2" y="480.4" font-size="20" font-weight="bold" fill="#111">(e)</text>
<clipPath id="c21"><rect x="363.4" y="461.7" width="285.5" height="209.8"/></clipPath>
<g clip-path="url(#c21)">
<line x1="392.2" y1="597.7" x2="392.2" y2="609.8" stroke="#78390e" stroke-width="2"/>
<line x1="392.2" y1="633.2" x2="392.2" y2="645.7" stroke="#78390e" stroke-width="2"/>
<rect x="387" y="518.2" width="9.6" height="9.6" fill="#78390e" fill-opacity="0.52"/>
<rect x="387.2" y="593.4" width="9.6" height="9.6" fill="#78390e" fill-opacity="0.52"/>
<rect x="387.9" y="595.5" width="9.6" height="9.6" fill="#78390e" fill-opacity="0.52"/>
<rect x="381.5" y="597.9" width="9.6" height="9.6" fill="#78390e" fill-opacity="0.52"/>
<rect x="390.7" y="598.7" width="9.6" height="9.6" fill="#78390e" fill-opacity="0.52"/>
<rect x="383.5" y="601.1" width="9.6" height="9.6" fill="#78390e" fill-opacity="0.52"/>
<rect x="386.3" y="604.4" width="9.6" height="9.6" fill="#78390e" fill-opacity="0.52"/>
<rect x="386.4" y="606" width="9.6" height="9.6" fill="#78390e" fill-opacity="0.52"/>
<rect x="382.5" y="607.6" width="9.6" height="9.6" fill="#78390e" fill-opacity="0.52"/>
<rect x="391.1" y="609.5" width="9.6" height="9.6" fill="#78390e" fill-opacity="0.52"/>
<rect x="389.6" y="611.7" width="9.6" height="9.6" fill="#78390e" fill-opacity="0.52"/>
<rect x="381.5" y="614.9" width="9.6" height="9.6" fill="#78390e" fill-opacity="0.52"/>
<rect x="387.8" y="618" width="9.6" height="9.6" fill="#78390e" fill-opacity="0.52"/>
<rect x="381.1" y="619.6" width="9.6" height="9.6" fill="#78390e" fill-opacity="0.52"/>
<rect x="386.4" y="624" width="9.6" height="9.6" fill="#78390e" fill-opacity="0.52"/>
<rect x="391.2" y="626.4" width="9.6" height="9.6" fill="#78390e" fill-opacity="0.52"/>
<rect x="391.8" y="629.3" width="9.6" height="9.6" fill="#78390e" fill-opacity="0.52"/>
<rect x="390.3" y="631.4" width="9.6" height="9.6" fill="#78390e" fill-opacity="0.52"/>
<rect x="391.9" y="634.5" width="9.6" height="9.6" fill="#78390e" fill-opacity="0.52"/>
<rect x="381.9" y="638.8" width="9.6" height="9.6" fill="#78390e" fill-opacity="0.52"/>
<rect x="383.3" y="639.6" width="9.6" height="9.6" fill="#78390e" fill-opacity="0.52"/>
<rect x="373.9" y="609.8" width="36.6" height="23.4" fill="none" stroke="#78390e" stroke-width="2"/>
<line x1="373.9" y1="614" x2="410.5" y2="614" stroke="#78390e" stroke-width="2"/>
<path d="M391.2 612.4L397.4 618.6L391.2 624.8L385 618.6Z" fill="none" stroke="#78390e" stroke-width="1"/>
<line x1="449.2" y1="553.9" x2="449.2" y2="582.7" stroke="#f0228f" stroke-width="2"/>
<line x1="449.2" y1="616.9" x2="449.2" y2="635.3" stroke="#f0228f" stroke-width="2"/>
<rect x="440.8" y="548.4" width="9.6" height="9.6" fill="#f0228f" fill-opacity="0.55"/>
<rect x="441.4" y="554.2" width="9.6" height="9.6" fill="#f0228f" fill-opacity="0.55"/>
<rect x="444.1" y="557.5" width="9.6" height="9.6" fill="#f0228f" fill-opacity="0.55"/>
<rect x="448.5" y="566.8" width="9.6" height="9.6" fill="#f0228f" fill-opacity="0.55"/>
<rect x="442.1" y="571" width="9.6" height="9.6" fill="#f0228f" fill-opacity="0.55"/>
<rect x="442.7" y="574.9" width="9.6" height="9.6" fill="#f0228f" fill-opacity="0.55"/>
<rect x="440.9" y="577.8" width="9.6" height="9.6" fill="#f0228f" fill-opacity="0.55"/>
<rect x="449.9" y="581.5" width="9.6" height="9.6" fill="#f0228f" fill-opacity="0.55"/>
<rect x="448.6" y="587.1" width="9.6" height="9.6" fill="#f0228f" fill-opacity="0.55"/>
<rect x="441.8" y="590.5" width="9.6" height="9.6" fill="#f0228f" fill-opacity="0.55"/>
<rect x="446.6" y="592.3" width="9.6" height="9.6" fill="#f0228f" fill-opacity="0.55"/>
<rect x="449.1" y="597.3" width="9.6" height="9.6" fill="#f0228f" fill-opacity="0.55"/>
<rect x="440.7" y="601.3" width="9.6" height="9.6" fill="#f0228f" fill-opacity="0.55"/>
<rect x="447.1" y="603.8" width="9.6" height="9.6" fill="#f0228f" fill-opacity="0.55"/>
<rect x="441.7" y="607" width="9.6" height="9.6" fill="#f0228f" fill-opacity="0.55"/>
<rect x="440.7" y="610.4" width="9.6" height="9.6" fill="#f0228f" fill-opacity="0.55"/>
<rect x="449.2" y="616.7" width="9.6" height="9.6" fill="#f0228f" fill-opacity="0.55"/>
<rect x="443" y="619.7" width="9.6" height="9.6" fill="#f0228f" fill-opacity="0.55"/>
<rect x="446" y="626.2" width="9.6" height="9.6" fill="#f0228f" fill-opacity="0.55"/>
<rect x="449" y="630.9" width="9.6" height="9.6" fill="#f0228f" fill-opacity="0.55"/>
<rect x="430.9" y="582.7" width="36.6" height="34.2" fill="none" stroke="#f0228f" stroke-width="2"/>
<line x1="430.9" y1="605" x2="467.5" y2="605" stroke="#f0228f" stroke-width="2"/>
<path d="M449.2 591.5L455.4 597.7L449.2 603.9L443 597.7Z" fill="none" stroke="#f0228f" stroke-width="1"/>
<line x1="563.2" y1="596.5" x2="563.2" y2="613.6" stroke="#55dcc8" stroke-width="2"/>
<rect x="560.4" y="591.4" width="9.6" height="9.6" fill="#55dcc8" fill-opacity="0.58"/>
<rect x="556.6" y="604.1" width="9.6" height="9.6" fill="#55dcc8" fill-opacity="0.58"/>
<rect x="557.8" y="608.7" width="9.6" height="9.6" fill="#55dcc8" fill-opacity="0.58"/>
<rect x="559.1" y="612.5" width="9.6" height="9.6" fill="#55dcc8" fill-opacity="0.58"/>
<rect x="560.4" y="616.8" width="9.6" height="9.6" fill="#55dcc8" fill-opacity="0.58"/>
<rect x="564.2" y="619.2" width="9.6" height="9.6" fill="#55dcc8" fill-opacity="0.58"/>
<rect x="556.6" y="623.2" width="9.6" height="9.6" fill="#55dcc8" fill-opacity="0.58"/>
<rect x="561.7" y="621.4" width="9.6" height="9.6" fill="#55dcc8" fill-opacity="0.58"/>
<rect x="557.8" y="625.7" width="9.6" height="9.6" fill="#55dcc8" fill-opacity="0.58"/>
<rect x="544.9" y="613.6" width="36.6" height="13.2" fill="none" stroke="#55dcc8" stroke-width="2"/>
<line x1="544.9" y1="618.7" x2="581.5" y2="618.7" stroke="#55dcc8" stroke-width="2"/>
<path d="M562.6 614.1L568.8 620.3L562.6 626.5L556.4 620.3Z" fill="none" stroke="#55dcc8" stroke-width="1"/>
<rect x="614.5" y="605.4" width="9.6" height="9.6" fill="#7d1ff0" fill-opacity="0.55"/>
<rect x="625.2" y="604.1" width="9.6" height="9.6" fill="#7d1ff0" fill-opacity="0.55"/>
<rect x="614.5" y="611.7" width="9.6" height="9.6" fill="#7d1ff0" fill-opacity="0.55"/>
<rect x="601.9" y="610.2" width="36.6" height="5.1" fill="none" stroke="#7d1ff0" stroke-width="2"/>
<line x1="601.9" y1="612.7" x2="638.5" y2="612.7" stroke="#7d1ff0" stroke-width="2"/>
<path d="M621 606.5L627.2 612.7L621 618.9L614.8 612.7Z" fill="none" stroke="#7d1ff0" stroke-width="1"/>
</g>
<text x="390.9" y="584.1" font-size="20" text-anchor="middle" fill="#111">B</text>
<text x="449.9" y="540.3" font-size="20" text-anchor="middle" fill="#111">A</text>
<text x="565" y="581.7" font-size="20" text-anchor="middle" fill="#111">B</text>
<text x="621" y="597" font-size="20" text-anchor="middle" fill="#111">AB</text>
<text x="394.35" y="665.2" font-size="20" text-anchor="middle" fill="#78390e"><tspan font-style="italic">n</tspan> = 21</text>
<text x="452.95" y="665.2" font-size="20" text-anchor="middle" fill="#f0228f"><tspan font-style="italic">n</tspan> = 20</text>
<text x="508.9" y="665.2" font-size="20" text-anchor="middle" fill="#d9a935"><tspan font-style="italic">n</tspan> = 0</text>
<text x="565.55" y="665.2" font-size="20" text-anchor="middle" fill="#55dcc8"><tspan font-style="italic">n</tspan> = 9</text>
<text x="622.35" y="665.2" font-size="20" text-anchor="middle" fill="#7d1ff0"><tspan font-style="italic">n</tspan> = 2</text>
<rect x="363.4" y="461.7" width="285.5" height="209.8" fill="none" stroke="#1c1c1c" stroke-width="1.8"/>
<line x1="392.2" y1="671.5" x2="392.2" y2="667.9" stroke="#1c1c1c" stroke-width="1.5"/>
<line x1="449.2" y1="671.5" x2="449.2" y2="667.9" stroke="#1c1c1c" stroke-width="1.5"/>
<line x1="506.2" y1="671.5" x2="506.2" y2="667.9" stroke="#1c1c1c" stroke-width="1.5"/>
<line x1="563.2" y1="671.5" x2="563.2" y2="667.9" stroke="#1c1c1c" stroke-width="1.5"/>
<line x1="620.2" y1="671.5" x2="620.2" y2="667.9" stroke="#1c1c1c" stroke-width="1.5"/>
<line x1="648.9" y1="644" x2="645.3" y2="644" stroke="#1c1c1c" stroke-width="1.5"/>
<text x="653.6" y="650.4" font-size="20" fill="#111">0</text>
<line x1="648.9" y1="598.3" x2="645.3" y2="598.3" stroke="#1c1c1c" stroke-width="1.5"/>
<text x="653.6" y="604.7" font-size="20" fill="#111">5</text>
<line x1="648.9" y1="552.6" x2="645.3" y2="552.6" stroke="#1c1c1c" stroke-width="1.5"/>
<text x="653.6" y="559" font-size="20" fill="#111">10</text>
<line x1="648.9" y1="506.9" x2="645.3" y2="506.9" stroke="#1c1c1c" stroke-width="1.5"/>
<text x="653.6" y="513.3" font-size="20" fill="#111">15</text>
<text x="653.6" y="467.6" font-size="20" fill="#111">20</text>
<text x="367.3" y="480.4" font-size="20" font-weight="bold" fill="#111">(f)</text>
<clipPath id="c30"><rect x="70.3" y="681.8" width="285.7" height="209.7"/></clipPath>
<g clip-path="url(#c30)">
<circle cx="97.1" cy="688.4" r="5.2" fill="#78390e" fill-opacity="0.52"/>
<circle cx="100.4" cy="857" r="5.2" fill="#78390e" fill-opacity="0.52"/>
<circle cx="103.2" cy="857.8" r="5.2" fill="#78390e" fill-opacity="0.52"/>
<circle cx="102.9" cy="858.5" r="5.2" fill="#78390e" fill-opacity="0.52"/>
<circle cx="96.5" cy="858.7" r="5.2" fill="#78390e" fill-opacity="0.52"/>
<circle cx="99.1" cy="860" r="5.2" fill="#78390e" fill-opacity="0.52"/>
<circle cx="91.6" cy="860.6" r="5.2" fill="#78390e" fill-opacity="0.52"/>
<circle cx="93.5" cy="861" r="5.2" fill="#78390e" fill-opacity="0.52"/>
<circle cx="98" cy="861.8" r="5.2" fill="#78390e" fill-opacity="0.52"/>
<circle cx="93" cy="862.1" r="5.2" fill="#78390e" fill-opacity="0.52"/>
<circle cx="102.8" cy="863" r="5.2" fill="#78390e" fill-opacity="0.52"/>
<circle cx="92.2" cy="864" r="5.2" fill="#78390e" fill-opacity="0.52"/>
<circle cx="91.9" cy="864.7" r="5.2" fill="#78390e" fill-opacity="0.52"/>
<circle cx="91.8" cy="865.3" r="5.2" fill="#78390e" fill-opacity="0.52"/>
<circle cx="102.2" cy="865.5" r="5.2" fill="#78390e" fill-opacity="0.52"/>
<rect x="80.5" y="858.2" width="36.6" height="3.6" fill="none" stroke="#78390e" stroke-width="2"/>
<line x1="80.5" y1="861.8" x2="117.1" y2="861.8" stroke="#78390e" stroke-width="2"/>
<path d="M98.2 841.3L104.4 847.5L98.2 853.7L92 847.5Z" fill="none" stroke="#78390e" stroke-width="1"/>
<circle cx="154.7" cy="841.2" r="5.2" fill="#ef636e" fill-opacity="0.52"/>
<circle cx="155.7" cy="853.5" r="5.2" fill="#ef636e" fill-opacity="0.52"/>
<circle cx="157" cy="855.5" r="5.2" fill="#ef636e" fill-opacity="0.52"/>
<circle cx="156.4" cy="863" r="5.2" fill="#ef636e" fill-opacity="0.52"/>
<circle cx="154.7" cy="864" r="5.2" fill="#ef636e" fill-opacity="0.52"/>
<circle cx="153.7" cy="847" r="5.2" fill="#ef636e" fill-opacity="0.52"/>
<circle cx="157" cy="851" r="5.2" fill="#ef636e" fill-opacity="0.52"/>
<rect x="137.6" y="842.5" width="36.6" height="20.5" fill="none" stroke="#ef636e" stroke-width="2"/>
<line x1="137.6" y1="854.5" x2="174.2" y2="854.5" stroke="#ef636e" stroke-width="2"/>
<path d="M155.7 847.3L161.9 853.5L155.7 859.7L149.5 853.5Z" fill="none" stroke="#ef636e" stroke-width="1"/>
<line x1="213" y1="791.8" x2="213" y2="810.6" stroke="#d9a935" stroke-width="2"/>
<line x1="213" y1="842.5" x2="213" y2="859.2" stroke="#d9a935" stroke-width="2"/>
<circle cx="216.2" cy="791.8" r="5.2" fill="#d9a935" fill-opacity="0.55"/>
<circle cx="209.5" cy="805.6" r="5.2" fill="#d9a935" fill-opacity="0.55"/>
<circle cx="211.2" cy="814.3" r="5.2" fill="#d9a935" fill-opacity="0.55"/>
<circle cx="217.5" cy="831.8" r="5.2" fill="#d9a935" fill-opacity="0.55"/>
<circle cx="210" cy="834" r="5.2" fill="#d9a935" fill-opacity="0.55"/>
<circle cx="212" cy="839.3" r="5.2" fill="#d9a935" fill-opacity="0.55"/>
<circle cx="217.5" cy="844.3" r="5.2" fill="#d9a935" fill-opacity="0.55"/>
<circle cx="211.2" cy="859.2" r="5.2" fill="#d9a935" fill-opacity="0.55"/>
<rect x="194.7" y="810.6" width="36.6" height="31.9" fill="none" stroke="#d9a935" stroke-width="2"/>
<line x1="194.7" y1="832.5" x2="231.3" y2="832.5" stroke="#d9a935" stroke-width="2"/>
<path d="M213 820.6L219.2 826.8L213 833L206.8 826.8Z" fill="none" stroke="#d9a935" stroke-width="1"/>
<circle cx="267.4" cy="840.5" r="5.2" fill="#42f23c" fill-opacity="0.58"/>
<circle cx="270" cy="844" r="5.2" fill="#42f23c" fill-opacity="0.58"/>
<circle cx="266.5" cy="851.7" r="5.2" fill="#42f23c" fill-opacity="0.58"/>
<circle cx="272.5" cy="854.2" r="5.2" fill="#42f23c" fill-opacity="0.58"/>
<circle cx="267.4" cy="859.2" r="5.2" fill="#42f23c" fill-opacity="0.58"/>
<circle cx="271" cy="848" r="5.2" fill="#42f23c" fill-opacity="0.58"/>
<circle cx="273.5" cy="850" r="5.2" fill="#42f23c" fill-opacity="0.58"/>
<circle cx="268.5" cy="856" r="5.2" fill="#42f23c" fill-opacity="0.58"/>
<rect x="251.8" y="847.5" width="36.6" height="8.5" fill="none" stroke="#42f23c" stroke-width="2"/>
<line x1="251.8" y1="851.7" x2="288.4" y2="851.7" stroke="#42f23c" stroke-width="2"/>
<path d="M270.2 845.5L276.4 851.7L270.2 857.9L264 851.7Z" fill="none" stroke="#42f23c" stroke-width="1"/>
<line x1="327.2" y1="808.8" x2="327.2" y2="826.3" stroke="#3169b0" stroke-width="2"/>
<line x1="327.2" y1="848" x2="327.2" y2="860.5" stroke="#3169b0" stroke-width="2"/>
<circle cx="336.8" cy="742.7" r="5.2" fill="#2a7cb8" fill-opacity="0.55"/>
<circle cx="329.3" cy="791.8" r="5.2" fill="#2a7cb8" fill-opacity="0.55"/>
<circle cx="326" cy="809.3" r="5.2" fill="#2a7cb8" fill-opacity="0.55"/>
<circle cx="331.5" cy="817" r="5.2" fill="#2a7cb8" fill-opacity="0.55"/>
<circle cx="327" cy="823" r="5.2" fill="#2a7cb8" fill-opacity="0.55"/>
<circle cx="331.4" cy="827.4" r="5.2" fill="#2a7cb8" fill-opacity="0.55"/>
<circle cx="324.6" cy="828.6" r="5.2" fill="#2a7cb8" fill-opacity="0.55"/>
<circle cx="329.5" cy="829.5" r="5.2" fill="#2a7cb8" fill-opacity="0.55"/>
<circle cx="330.6" cy="832.1" r="5.2" fill="#2a7cb8" fill-opacity="0.55"/>
<circle cx="330.7" cy="833.7" r="5.2" fill="#2a7cb8" fill-opacity="0.55"/>
<circle cx="331.1" cy="835.2" r="5.2" fill="#2a7cb8" fill-opacity="0.55"/>
<circle cx="326.5" cy="837.8" r="5.2" fill="#2a7cb8" fill-opacity="0.55"/>
<circle cx="329.7" cy="839.2" r="5.2" fill="#2a7cb8" fill-opacity="0.55"/>
<circle cx="328.1" cy="840.3" r="5.2" fill="#2a7cb8" fill-opacity="0.55"/>
<circle cx="324.7" cy="842.7" r="5.2" fill="#2a7cb8" fill-opacity="0.55"/>
<circle cx="329.7" cy="844.2" r="5.2" fill="#2a7cb8" fill-opacity="0.55"/>
<circle cx="325.5" cy="845.8" r="5.2" fill="#2a7cb8" fill-opacity="0.55"/>
<circle cx="331.1" cy="846.1" r="5.2" fill="#2a7cb8" fill-opacity="0.55"/>
<circle cx="326.8" cy="848.7" r="5.2" fill="#2a7cb8" fill-opacity="0.55"/>
<circle cx="323.9" cy="849.1" r="5.2" fill="#2a7cb8" fill-opacity="0.55"/>
<circle cx="325" cy="851.5" r="5.2" fill="#2a7cb8" fill-opacity="0.55"/>
<circle cx="328.6" cy="853.7" r="5.2" fill="#2a7cb8" fill-opacity="0.55"/>
<circle cx="329.4" cy="854.2" r="5.2" fill="#2a7cb8" fill-opacity="0.55"/>
<circle cx="332.7" cy="856.2" r="5.2" fill="#2a7cb8" fill-opacity="0.55"/>
<circle cx="327.7" cy="859" r="5.2" fill="#2a7cb8" fill-opacity="0.55"/>
<circle cx="329.9" cy="860.4" r="5.2" fill="#2a7cb8" fill-opacity="0.55"/>
<rect x="308.9" y="826.3" width="36.6" height="21.7" fill="none" stroke="#3169b0" stroke-width="2"/>
<line x1="308.9" y1="840.8" x2="345.5" y2="840.8" stroke="#3169b0" stroke-width="2"/>
<path d="M327.5 825.8L333.7 832L327.5 838.2L321.3 832Z" fill="none" stroke="#3169b0" stroke-width="1"/>
</g>
<text x="100.3" y="837.6" font-size="20" text-anchor="middle" fill="#111">A</text>
<text x="156.4" y="830.2" font-size="20" text-anchor="middle" fill="#111">A</text>
<text x="214.3" y="779.4" font-size="20" text-anchor="middle" fill="#111">A</text>
<text x="271.4" y="831" font-size="20" text-anchor="middle" fill="#111">A</text>
<text x="328.3" y="779.4" font-size="20" text-anchor="middle" fill="#111">A</text>
<text x="97.25" y="885.2" font-size="20" text-anchor="middle" fill="#78390e"><tspan font-style="italic">n</tspan> = 15</text>
<text x="157.25" y="885.2" font-size="20" text-anchor="middle" fill="#ef636e"><tspan font-style="italic">n</tspan> = 7</text>
<text x="214.35" y="885.2" font-size="20" text-anchor="middle" fill="#d9a935"><tspan font-style="italic">n</tspan> = 8</text>
<text x="270.35" y="885.2" font-size="20" text-anchor="middle" fill="#42f23c"><tspan font-style="italic">n</tspan> = 8</text>
<text x="325.75" y="885.2" font-size="20" text-anchor="middle" fill="#3169b0"><tspan font-style="italic">n</tspan> = 26</text>
<rect x="70.3" y="681.8" width="285.7" height="209.7" fill="none" stroke="#1c1c1c" stroke-width="1.8"/>
<line x1="98.8" y1="891.5" x2="98.8" y2="887.9" stroke="#1c1c1c" stroke-width="1.5"/>
<line x1="155.9" y1="891.5" x2="155.9" y2="887.9" stroke="#1c1c1c" stroke-width="1.5"/>
<line x1="213" y1="891.5" x2="213" y2="887.9" stroke="#1c1c1c" stroke-width="1.5"/>
<line x1="270.1" y1="891.5" x2="270.1" y2="887.9" stroke="#1c1c1c" stroke-width="1.5"/>
<line x1="327.2" y1="891.5" x2="327.2" y2="887.9" stroke="#1c1c1c" stroke-width="1.5"/>
<line x1="70.3" y1="863.4" x2="73.9" y2="863.4" stroke="#1c1c1c" stroke-width="1.5"/>
<text x="66" y="869.8" font-size="20" text-anchor="end" fill="#111">0</text>
<line x1="70.3" y1="806.6" x2="73.9" y2="806.6" stroke="#1c1c1c" stroke-width="1.5"/>
<text x="66" y="813" font-size="20" text-anchor="end" fill="#111">10</text>
<line x1="70.3" y1="749.8" x2="73.9" y2="749.8" stroke="#1c1c1c" stroke-width="1.5"/>
<text x="66" y="756.2" font-size="20" text-anchor="end" fill="#111">20</text>
<line x1="70.3" y1="693" x2="73.9" y2="693" stroke="#1c1c1c" stroke-width="1.5"/>
<text x="66" y="699.4" font-size="20" text-anchor="end" fill="#111">30</text>
<text x="351" y="700.5" font-size="20" font-weight="bold" text-anchor="end" fill="#111">(g)</text>
<clipPath id="c31"><rect x="363.4" y="681.8" width="285.5" height="209.7"/></clipPath>
<g clip-path="url(#c31)">
<line x1="392.2" y1="824" x2="392.2" y2="837.5" stroke="#78390e" stroke-width="2"/>
<rect x="388.7" y="789.2" width="9.6" height="9.6" fill="#78390e" fill-opacity="0.52"/>
<rect x="387.7" y="793.2" width="9.6" height="9.6" fill="#78390e" fill-opacity="0.52"/>
<rect x="386.2" y="798.2" width="9.6" height="9.6" fill="#78390e" fill-opacity="0.52"/>
<rect x="385.2" y="803.2" width="9.6" height="9.6" fill="#78390e" fill-opacity="0.52"/>
<rect x="384.3" y="819.2" width="9.6" height="9.6" fill="#78390e" fill-opacity="0.52"/>
<rect x="385.2" y="822.2" width="9.6" height="9.6" fill="#78390e" fill-opacity="0.52"/>
<rect x="382.3" y="828.6" width="9.6" height="9.6" fill="#78390e" fill-opacity="0.52"/>
<rect x="381.2" y="830.2" width="9.6" height="9.6" fill="#78390e" fill-opacity="0.52"/>
<rect x="385.3" y="831.3" width="9.6" height="9.6" fill="#78390e" fill-opacity="0.52"/>
<rect x="387.3" y="831.9" width="9.6" height="9.6" fill="#78390e" fill-opacity="0.52"/>
<rect x="386.3" y="833.1" width="9.6" height="9.6" fill="#78390e" fill-opacity="0.52"/>
<rect x="381.5" y="834.4" width="9.6" height="9.6" fill="#78390e" fill-opacity="0.52"/>
<rect x="391.8" y="836" width="9.6" height="9.6" fill="#78390e" fill-opacity="0.52"/>
<rect x="383.3" y="836.9" width="9.6" height="9.6" fill="#78390e" fill-opacity="0.52"/>
<rect x="393.5" y="838.7" width="9.6" height="9.6" fill="#78390e" fill-opacity="0.52"/>
<rect x="385.8" y="839.8" width="9.6" height="9.6" fill="#78390e" fill-opacity="0.52"/>
<rect x="380.9" y="841.5" width="9.6" height="9.6" fill="#78390e" fill-opacity="0.52"/>
<rect x="384.3" y="842.6" width="9.6" height="9.6" fill="#78390e" fill-opacity="0.52"/>
<rect x="381.8" y="842.9" width="9.6" height="9.6" fill="#78390e" fill-opacity="0.52"/>
<rect x="391.6" y="844.4" width="9.6" height="9.6" fill="#78390e" fill-opacity="0.52"/>
<rect x="388.3" y="845.4" width="9.6" height="9.6" fill="#78390e" fill-opacity="0.52"/>
<rect x="385.4" y="846.7" width="9.6" height="9.6" fill="#78390e" fill-opacity="0.52"/>
<rect x="381.1" y="847.6" width="9.6" height="9.6" fill="#78390e" fill-opacity="0.52"/>
<rect x="383.1" y="848.1" width="9.6" height="9.6" fill="#78390e" fill-opacity="0.52"/>
<rect x="386.2" y="849.6" width="9.6" height="9.6" fill="#78390e" fill-opacity="0.52"/>
<rect x="388.4" y="850.2" width="9.6" height="9.6" fill="#78390e" fill-opacity="0.52"/>
<rect x="384.4" y="851.2" width="9.6" height="9.6" fill="#78390e" fill-opacity="0.52"/>
<rect x="390" y="852.5" width="9.6" height="9.6" fill="#78390e" fill-opacity="0.52"/>
<rect x="388.2" y="852.9" width="9.6" height="9.6" fill="#78390e" fill-opacity="0.52"/>
<rect x="392.5" y="854.1" width="9.6" height="9.6" fill="#78390e" fill-opacity="0.52"/>
<rect x="384.2" y="855.2" width="9.6" height="9.6" fill="#78390e" fill-opacity="0.52"/>
<rect x="381.9" y="856.4" width="9.6" height="9.6" fill="#78390e" fill-opacity="0.52"/>
<rect x="390.8" y="856.8" width="9.6" height="9.6" fill="#78390e" fill-opacity="0.52"/>
<rect x="387" y="857.5" width="9.6" height="9.6" fill="#78390e" fill-opacity="0.52"/>
<rect x="389.6" y="858.3" width="9.6" height="9.6" fill="#78390e" fill-opacity="0.52"/>
<rect x="373.9" y="837.5" width="36.6" height="16.1" fill="none" stroke="#78390e" stroke-width="2"/>
<line x1="373.9" y1="849" x2="410.5" y2="849" stroke="#78390e" stroke-width="2"/>
<path d="M392 835.8L398.2 842L392 848.2L385.8 842Z" fill="none" stroke="#78390e" stroke-width="1"/>
<line x1="449.2" y1="791.6" x2="449.2" y2="825" stroke="#f0228f" stroke-width="2"/>
<rect x="444.2" y="766.6" width="9.6" height="9.6" fill="#f0228f" fill-opacity="0.55"/>
<rect x="448" y="778.5" width="9.6" height="9.6" fill="#f0228f" fill-opacity="0.55"/>
<rect x="441.7" y="786.8" width="9.6" height="9.6" fill="#f0228f" fill-opacity="0.55"/>
<rect x="449.2" y="800.2" width="9.6" height="9.6" fill="#f0228f" fill-opacity="0.55"/>
<rect x="444.2" y="805.2" width="9.6" height="9.6" fill="#f0228f" fill-opacity="0.55"/>
<rect x="449.2" y="810.2" width="9.6" height="9.6" fill="#f0228f" fill-opacity="0.55"/>
<rect x="451.2" y="813.6" width="9.6" height="9.6" fill="#f0228f" fill-opacity="0.55"/>
<rect x="447.9" y="815.1" width="9.6" height="9.6" fill="#f0228f" fill-opacity="0.55"/>
<rect x="441.9" y="816.7" width="9.6" height="9.6" fill="#f0228f" fill-opacity="0.55"/>
<rect x="441.4" y="820" width="9.6" height="9.6" fill="#f0228f" fill-opacity="0.55"/>
<rect x="444.7" y="821.1" width="9.6" height="9.6" fill="#f0228f" fill-opacity="0.55"/>
<rect x="445.1" y="822.4" width="9.6" height="9.6" fill="#f0228f" fill-opacity="0.55"/>
<rect x="449.5" y="823.7" width="9.6" height="9.6" fill="#f0228f" fill-opacity="0.55"/>
<rect x="441.7" y="825.2" width="9.6" height="9.6" fill="#f0228f" fill-opacity="0.55"/>
<rect x="442.2" y="826.8" width="9.6" height="9.6" fill="#f0228f" fill-opacity="0.55"/>
<rect x="450.4" y="829.1" width="9.6" height="9.6" fill="#f0228f" fill-opacity="0.55"/>
<rect x="440.2" y="830.8" width="9.6" height="9.6" fill="#f0228f" fill-opacity="0.55"/>
<rect x="451.6" y="832.3" width="9.6" height="9.6" fill="#f0228f" fill-opacity="0.55"/>
<rect x="446.8" y="833.6" width="9.6" height="9.6" fill="#f0228f" fill-opacity="0.55"/>
<rect x="447.3" y="835.7" width="9.6" height="9.6" fill="#f0228f" fill-opacity="0.55"/>
<rect x="447.7" y="837.1" width="9.6" height="9.6" fill="#f0228f" fill-opacity="0.55"/>
<rect x="447.1" y="838.8" width="9.6" height="9.6" fill="#f0228f" fill-opacity="0.55"/>
<rect x="446.3" y="840.8" width="9.6" height="9.6" fill="#f0228f" fill-opacity="0.55"/>
<rect x="439.5" y="841.2" width="9.6" height="9.6" fill="#f0228f" fill-opacity="0.55"/>
<rect x="445.1" y="843.8" width="9.6" height="9.6" fill="#f0228f" fill-opacity="0.55"/>
<rect x="451" y="844.1" width="9.6" height="9.6" fill="#f0228f" fill-opacity="0.55"/>
<rect x="448.2" y="846.1" width="9.6" height="9.6" fill="#f0228f" fill-opacity="0.55"/>
<rect x="442.4" y="848" width="9.6" height="9.6" fill="#f0228f" fill-opacity="0.55"/>
<rect x="450.1" y="848.7" width="9.6" height="9.6" fill="#f0228f" fill-opacity="0.55"/>
<rect x="448.6" y="849.8" width="9.6" height="9.6" fill="#f0228f" fill-opacity="0.55"/>
<rect x="447.7" y="851.2" width="9.6" height="9.6" fill="#f0228f" fill-opacity="0.55"/>
<rect x="451" y="853.5" width="9.6" height="9.6" fill="#f0228f" fill-opacity="0.55"/>
<rect x="445.2" y="855.2" width="9.6" height="9.6" fill="#f0228f" fill-opacity="0.55"/>
<rect x="440.7" y="855.7" width="9.6" height="9.6" fill="#f0228f" fill-opacity="0.55"/>
<rect x="445.3" y="857.6" width="9.6" height="9.6" fill="#f0228f" fill-opacity="0.55"/>
<rect x="450.4" y="858.4" width="9.6" height="9.6" fill="#f0228f" fill-opacity="0.55"/>
<rect x="447.8" y="860.5" width="9.6" height="9.6" fill="#f0228f" fill-opacity="0.55"/>
<rect x="430.9" y="825" width="36.6" height="25.7" fill="none" stroke="#f0228f" stroke-width="2"/>
<line x1="430.9" y1="840.2" x2="467.5" y2="840.2" stroke="#f0228f" stroke-width="2"/>
<path d="M450 825.8L456.2 832L450 838.2L443.8 832Z" fill="none" stroke="#f0228f" stroke-width="1"/>
<rect x="505.3" y="815.1" width="9.6" height="9.6" fill="#d9a935" fill-opacity="0.55"/>
<rect x="500.7" y="844.8" width="9.6" height="9.6" fill="#d9a935" fill-opacity="0.55"/>
<rect x="500.7" y="849.2" width="9.6" height="9.6" fill="#d9a935" fill-opacity="0.55"/>
<rect x="503.2" y="852.5" width="9.6" height="9.6" fill="#d9a935" fill-opacity="0.55"/>
<rect x="499.7" y="847.2" width="9.6" height="9.6" fill="#d9a935" fill-opacity="0.55"/>
<rect x="487.9" y="849.6" width="36.6" height="4.6" fill="none" stroke="#d9a935" stroke-width="2"/>
<line x1="487.9" y1="852.2" x2="524.5" y2="852.2" stroke="#d9a935" stroke-width="2"/>
<path d="M505.5 838.4L511.7 844.6L505.5 850.8L499.3 844.6Z" fill="none" stroke="#d9a935" stroke-width="1"/>
<rect x="559.1" y="849.9" width="9.6" height="9.6" fill="#55dcc8" fill-opacity="0.58"/>
<rect x="557.8" y="855" width="9.6" height="9.6" fill="#55dcc8" fill-opacity="0.58"/>
<rect x="560.4" y="858.1" width="9.6" height="9.6" fill="#55dcc8" fill-opacity="0.58"/>
<rect x="556.6" y="853.5" width="9.6" height="9.6" fill="#55dcc8" fill-opacity="0.58"/>
<rect x="544.9" y="856.8" width="36.6" height="5.5" fill="none" stroke="#55dcc8" stroke-width="2"/>
<line x1="544.9" y1="859.3" x2="581.5" y2="859.3" stroke="#55dcc8" stroke-width="2"/>
<path d="M563.9 852.3L570.1 858.5L563.9 864.7L557.7 858.5Z" fill="none" stroke="#55dcc8" stroke-width="1"/>
<line x1="620.2" y1="779.8" x2="620.2" y2="794.5" stroke="#7d1ff0" stroke-width="2"/>
<line x1="620.2" y1="829.8" x2="620.2" y2="847.1" stroke="#7d1ff0" stroke-width="2"/>
<rect x="621.3" y="699.6" width="9.6" height="9.6" fill="#7d1ff0" fill-opacity="0.55"/>
<rect x="615" y="730.5" width="9.6" height="9.6" fill="#7d1ff0" fill-opacity="0.55"/>
<rect x="616.2" y="775" width="9.6" height="9.6" fill="#7d1ff0" fill-opacity="0.55"/>
<rect x="612.2" y="784.2" width="9.6" height="9.6" fill="#7d1ff0" fill-opacity="0.55"/>
<rect x="619.7" y="788.7" width="9.6" height="9.6" fill="#7d1ff0" fill-opacity="0.55"/>
<rect x="610.7" y="791.2" width="9.6" height="9.6" fill="#7d1ff0" fill-opacity="0.55"/>
<rect x="615.7" y="796.2" width="9.6" height="9.6" fill="#7d1ff0" fill-opacity="0.55"/>
<rect x="616.2" y="802.2" width="9.6" height="9.6" fill="#7d1ff0" fill-opacity="0.55"/>
<rect x="612.2" y="806.2" width="9.6" height="9.6" fill="#7d1ff0" fill-opacity="0.55"/>
<rect x="619.7" y="811.2" width="9.6" height="9.6" fill="#7d1ff0" fill-opacity="0.55"/>
<rect x="611.2" y="815.2" width="9.6" height="9.6" fill="#7d1ff0" fill-opacity="0.55"/>
<rect x="616.2" y="818.2" width="9.6" height="9.6" fill="#7d1ff0" fill-opacity="0.55"/>
<rect x="621.2" y="818.2" width="9.6" height="9.6" fill="#7d1ff0" fill-opacity="0.55"/>
<rect x="613.7" y="822.2" width="9.6" height="9.6" fill="#7d1ff0" fill-opacity="0.55"/>
<rect x="617.7" y="827.2" width="9.6" height="9.6" fill="#7d1ff0" fill-opacity="0.55"/>
<rect x="612.7" y="829.7" width="9.6" height="9.6" fill="#7d1ff0" fill-opacity="0.55"/>
<rect x="619.2" y="832.2" width="9.6" height="9.6" fill="#7d1ff0" fill-opacity="0.55"/>
<rect x="614.2" y="836.2" width="9.6" height="9.6" fill="#7d1ff0" fill-opacity="0.55"/>
<rect x="615" y="839.8" width="9.6" height="9.6" fill="#7d1ff0" fill-opacity="0.55"/>
<rect x="612.7" y="799.2" width="9.6" height="9.6" fill="#7d1ff0" fill-opacity="0.55"/>
<rect x="617.7" y="809.2" width="9.6" height="9.6" fill="#7d1ff0" fill-opacity="0.55"/>
<rect x="615.2" y="806.2" width="9.6" height="9.6" fill="#7d1ff0" fill-opacity="0.55"/>
<rect x="601.9" y="794.5" width="36.6" height="35.3" fill="none" stroke="#7d1ff0" stroke-width="2"/>
<line x1="601.9" y1="815.4" x2="638.5" y2="815.4" stroke="#7d1ff0" stroke-width="2"/>
<path d="M620.3 800.8L626.5 807L620.3 813.2L614.1 807Z" fill="none" stroke="#7d1ff0" stroke-width="1"/>
</g>
<text x="392.2" y="783.9" font-size="20" text-anchor="middle" fill="#111">B</text>
<text x="449.2" y="757.6" font-size="20" text-anchor="middle" fill="#111">B</text>
<text x="508" y="807.7" font-size="20" text-anchor="middle" fill="#111">BC</text>
<text x="565" y="843.8" font-size="20" text-anchor="middle" fill="#111">C</text>
<text x="620.8" y="770.4" font-size="20" text-anchor="middle" fill="#111">A</text>
<text x="392.95" y="885.2" font-size="20" text-anchor="middle" fill="#78390e"><tspan font-style="italic">n</tspan> = 35</text>
<text x="451.9" y="885.2" font-size="20" text-anchor="middle" fill="#f0228f"><tspan font-style="italic">n</tspan> = 37</text>
<text x="507.55" y="885.2" font-size="20" text-anchor="middle" fill="#d9a935"><tspan font-style="italic">n</tspan> = 5</text>
<text x="563.65" y="885.2" font-size="20" text-anchor="middle" fill="#55dcc8"><tspan font-style="italic">n</tspan> = 4</text>
<text x="620.6" y="885.2" font-size="20" text-anchor="middle" fill="#7d1ff0"><tspan font-style="italic">n</tspan> = 22</text>
<rect x="363.4" y="681.8" width="285.5" height="209.7" fill="none" stroke="#1c1c1c" stroke-width="1.8"/>
<line x1="392.2" y1="891.5" x2="392.2" y2="887.9" stroke="#1c1c1c" stroke-width="1.5"/>
<line x1="449.2" y1="891.5" x2="449.2" y2="887.9" stroke="#1c1c1c" stroke-width="1.5"/>
<line x1="506.2" y1="891.5" x2="506.2" y2="887.9" stroke="#1c1c1c" stroke-width="1.5"/>
<line x1="563.2" y1="891.5" x2="563.2" y2="887.9" stroke="#1c1c1c" stroke-width="1.5"/>
<line x1="620.2" y1="891.5" x2="620.2" y2="887.9" stroke="#1c1c1c" stroke-width="1.5"/>
<line x1="648.9" y1="863.4" x2="645.3" y2="863.4" stroke="#1c1c1c" stroke-width="1.5"/>
<text x="653.6" y="869.5" font-size="20" fill="#111">0</text>
<line x1="648.9" y1="806.6" x2="645.3" y2="806.6" stroke="#1c1c1c" stroke-width="1.5"/>
<text x="653.6" y="812.7" font-size="20" fill="#111">100</text>
<line x1="648.9" y1="749.8" x2="645.3" y2="749.8" stroke="#1c1c1c" stroke-width="1.5"/>
<text x="653.6" y="755.9" font-size="20" fill="#111">200</text>
<line x1="648.9" y1="693" x2="645.3" y2="693" stroke="#1c1c1c" stroke-width="1.5"/>
<text x="653.6" y="699.1" font-size="20" fill="#111">300</text>
<text x="367.3" y="700.5" font-size="20" font-weight="bold" fill="#111">(h)</text>
<clipPath id="c40"><rect x="70.3" y="901.8" width="285.7" height="209.9"/></clipPath>
<g clip-path="url(#c40)">
<line x1="98.8" y1="932.6" x2="98.8" y2="1005.3" stroke="#78390e" stroke-width="2"/>
<circle cx="99.4" cy="932.3" r="5.2" fill="#78390e" fill-opacity="0.52"/>
<circle cx="94.3" cy="937" r="5.2" fill="#78390e" fill-opacity="0.52"/>
<circle cx="93.2" cy="1005.3" r="5.2" fill="#78390e" fill-opacity="0.52"/>
<circle cx="97.5" cy="1019.2" r="5.2" fill="#78390e" fill-opacity="0.52"/>
<circle cx="103.2" cy="1045.2" r="5.2" fill="#78390e" fill-opacity="0.52"/>
<circle cx="95.2" cy="1060.3" r="5.2" fill="#78390e" fill-opacity="0.52"/>
<circle cx="97.5" cy="1073.6" r="5.2" fill="#78390e" fill-opacity="0.52"/>
<circle cx="94.8" cy="1075.5" r="5.2" fill="#78390e" fill-opacity="0.52"/>
<circle cx="100.4" cy="1079.3" r="5.2" fill="#78390e" fill-opacity="0.52"/>
<circle cx="98.5" cy="1078.5" r="5.2" fill="#78390e" fill-opacity="0.52"/>
<rect x="80.5" y="1005.3" width="36.6" height="71.6" fill="none" stroke="#78390e" stroke-width="2"/>
<line x1="80.5" y1="1052.4" x2="117.1" y2="1052.4" stroke="#78390e" stroke-width="2"/>
<path d="M98.5 1024.8L104.7 1031L98.5 1037.2L92.3 1031Z" fill="none" stroke="#78390e" stroke-width="1"/>
<line x1="155.9" y1="1057.1" x2="155.9" y2="1069.9" stroke="#ef636e" stroke-width="2"/>
<circle cx="156" cy="1057.1" r="5.2" fill="#ef636e" fill-opacity="0.52"/>
<circle cx="153.5" cy="1069.9" r="5.2" fill="#ef636e" fill-opacity="0.52"/>
<circle cx="156.4" cy="1071.8" r="5.2" fill="#ef636e" fill-opacity="0.52"/>
<circle cx="151.6" cy="1076.5" r="5.2" fill="#ef636e" fill-opacity="0.52"/>
<circle cx="157.3" cy="1077.5" r="5.2" fill="#ef636e" fill-opacity="0.52"/>
<circle cx="154.4" cy="1080.3" r="5.2" fill="#ef636e" fill-opacity="0.52"/>
<circle cx="150.4" cy="1079.4" r="5.2" fill="#ef636e" fill-opacity="0.52"/>
<rect x="137.6" y="1069.9" width="36.6" height="9.5" fill="none" stroke="#ef636e" stroke-width="2"/>
<line x1="137.6" y1="1074.3" x2="174.2" y2="1074.3" stroke="#ef636e" stroke-width="2"/>
<path d="M155.7 1065.8L161.9 1072L155.7 1078.2L149.5 1072Z" fill="none" stroke="#ef636e" stroke-width="1"/>
<circle cx="218.2" cy="966.2" r="5.2" fill="#d9a935" fill-opacity="0.55"/>
<circle cx="214.5" cy="1044.3" r="5.2" fill="#d9a935" fill-opacity="0.55"/>
<circle cx="212.5" cy="1055.5" r="5.2" fill="#d9a935" fill-opacity="0.55"/>
<circle cx="215" cy="1058" r="5.2" fill="#d9a935" fill-opacity="0.55"/>
<circle cx="212.5" cy="1061.7" r="5.2" fill="#d9a935" fill-opacity="0.55"/>
<circle cx="213.7" cy="1068" r="5.2" fill="#d9a935" fill-opacity="0.55"/>
<circle cx="214.5" cy="1045.5" r="5.2" fill="#d9a935" fill-opacity="0.55"/>
<rect x="194.7" y="1044.3" width="36.6" height="22" fill="none" stroke="#d9a935" stroke-width="2"/>
<line x1="194.7" y1="1058" x2="231.3" y2="1058" stroke="#d9a935" stroke-width="2"/>
<path d="M213.7 1039.3L219.9 1045.5L213.7 1051.7L207.5 1045.5Z" fill="none" stroke="#d9a935" stroke-width="1"/>
<circle cx="269.4" cy="1051.8" r="5.2" fill="#42f23c" fill-opacity="0.58"/>
<circle cx="269.4" cy="1063" r="5.2" fill="#42f23c" fill-opacity="0.58"/>
<circle cx="266.9" cy="1078.5" r="5.2" fill="#42f23c" fill-opacity="0.58"/>
<rect x="251.8" y="1053" width="36.6" height="25.5" fill="none" stroke="#42f23c" stroke-width="2"/>
<line x1="251.8" y1="1062.5" x2="288.4" y2="1062.5" stroke="#42f23c" stroke-width="2"/>
<path d="M270.4 1058.6L276.6 1064.8L270.4 1071L264.2 1064.8Z" fill="none" stroke="#42f23c" stroke-width="1"/>
<line x1="327.2" y1="1036.3" x2="327.2" y2="1057.3" stroke="#3169b0" stroke-width="2"/>
<line x1="327.2" y1="1076.7" x2="327.2" y2="1080.5" stroke="#3169b0" stroke-width="2"/>
<circle cx="327.8" cy="1036.3" r="5.2" fill="#2a7cb8" fill-opacity="0.55"/>
<circle cx="326.8" cy="1056.8" r="5.2" fill="#2a7cb8" fill-opacity="0.55"/>
<circle cx="332.3" cy="1065.5" r="5.2" fill="#2a7cb8" fill-opacity="0.55"/>
<circle cx="326" cy="1068" r="5.2" fill="#2a7cb8" fill-opacity="0.55"/>
<circle cx="331" cy="1076.7" r="5.2" fill="#2a7cb8" fill-opacity="0.55"/>
<circle cx="324.8" cy="1080.5" r="5.2" fill="#2a7cb8" fill-opacity="0.55"/>
<rect x="308.9" y="1057.3" width="36.6" height="19.4" fill="none" stroke="#3169b0" stroke-width="2"/>
<line x1="308.9" y1="1067.3" x2="345.5" y2="1067.3" stroke="#3169b0" stroke-width="2"/>
<path d="M327.8 1058.1L334 1064.3L327.8 1070.5L321.6 1064.3Z" fill="none" stroke="#3169b0" stroke-width="1"/>
</g>
<text x="99.2" y="922.4" font-size="20" text-anchor="middle" fill="#111">A</text>
<text x="156.4" y="1045.8" font-size="20" text-anchor="middle" fill="#111">A</text>
<text x="214.1" y="1033" font-size="20" text-anchor="middle" fill="#111">A</text>
<text x="270.9" y="1041.8" font-size="20" text-anchor="middle" fill="#111">A</text>
<text x="328.9" y="1025" font-size="20" text-anchor="middle" fill="#111">A</text>
<text x="100.05" y="1105.4" font-size="20" text-anchor="middle" fill="#78390e"><tspan font-style="italic">n</tspan> = 10</text>
<text x="156.3" y="1105.4" font-size="20" text-anchor="middle" fill="#ef636e"><tspan font-style="italic">n</tspan> = 7</text>
<text x="214.15" y="1105.4" font-size="20" text-anchor="middle" fill="#d9a935"><tspan font-style="italic">n</tspan> = 7</text>
<text x="270.55" y="1105.4" font-size="20" text-anchor="middle" fill="#42f23c"><tspan font-style="italic">n</tspan> = 3</text>
<text x="326.3" y="1105.4" font-size="20" text-anchor="middle" fill="#3169b0"><tspan font-style="italic">n</tspan> = 6</text>
<rect x="70.3" y="901.8" width="285.7" height="209.9" fill="none" stroke="#1c1c1c" stroke-width="1.8"/>
<line x1="98.8" y1="1111.7" x2="98.8" y2="1108.1" stroke="#1c1c1c" stroke-width="1.5"/>
<line x1="155.9" y1="1111.7" x2="155.9" y2="1108.1" stroke="#1c1c1c" stroke-width="1.5"/>
<line x1="213" y1="1111.7" x2="213" y2="1108.1" stroke="#1c1c1c" stroke-width="1.5"/>
<line x1="270.1" y1="1111.7" x2="270.1" y2="1108.1" stroke="#1c1c1c" stroke-width="1.5"/>
<line x1="327.2" y1="1111.7" x2="327.2" y2="1108.1" stroke="#1c1c1c" stroke-width="1.5"/>
<line x1="70.3" y1="1080.5" x2="73.9" y2="1080.5" stroke="#1c1c1c" stroke-width="1.5"/>
<text x="66" y="1087.5" font-size="20" text-anchor="end" fill="#111">0</text>
<line x1="70.3" y1="1035.8" x2="73.9" y2="1035.8" stroke="#1c1c1c" stroke-width="1.5"/>
<text x="66" y="1042.8" font-size="20" text-anchor="end" fill="#111">10</text>
<line x1="70.3" y1="991.1" x2="73.9" y2="991.1" stroke="#1c1c1c" stroke-width="1.5"/>
<text x="66" y="998.1" font-size="20" text-anchor="end" fill="#111">20</text>
<line x1="70.3" y1="946.4" x2="73.9" y2="946.4" stroke="#1c1c1c" stroke-width="1.5"/>
<text x="66" y="953.4" font-size="20" text-anchor="end" fill="#111">30</text>
<text x="66" y="908.7" font-size="20" text-anchor="end" fill="#111">40</text>
<text x="351" y="920.5" font-size="20" font-weight="bold" text-anchor="end" fill="#111">(i)</text>
<clipPath id="c41"><rect x="363.4" y="901.8" width="285.5" height="209.9"/></clipPath>
<g clip-path="url(#c41)">
<line x1="392.2" y1="1026.2" x2="392.2" y2="1048.1" stroke="#78390e" stroke-width="2"/>
<line x1="392.2" y1="1066.9" x2="392.2" y2="1079.5" stroke="#78390e" stroke-width="2"/>
<rect x="387.4" y="900.3" width="9.6" height="9.6" fill="#78390e" fill-opacity="0.52"/>
<rect x="389.5" y="974.4" width="9.6" height="9.6" fill="#78390e" fill-opacity="0.52"/>
<rect x="391.2" y="1021.4" width="9.6" height="9.6" fill="#78390e" fill-opacity="0.52"/>
<rect x="384.9" y="1025.1" width="9.6" height="9.6" fill="#78390e" fill-opacity="0.52"/>
<rect x="391.8" y="1026.4" width="9.6" height="9.6" fill="#78390e" fill-opacity="0.52"/>
<rect x="386.7" y="1028" width="9.6" height="9.6" fill="#78390e" fill-opacity="0.52"/>
<rect x="380.8" y="1031.6" width="9.6" height="9.6" fill="#78390e" fill-opacity="0.52"/>
<rect x="388.3" y="1032.9" width="9.6" height="9.6" fill="#78390e" fill-opacity="0.52"/>
<rect x="385" y="1033.8" width="9.6" height="9.6" fill="#78390e" fill-opacity="0.52"/>
<rect x="386" y="1036.9" width="9.6" height="9.6" fill="#78390e" fill-opacity="0.52"/>
<rect x="381.9" y="1038.9" width="9.6" height="9.6" fill="#78390e" fill-opacity="0.52"/>
<rect x="381.3" y="1039.9" width="9.6" height="9.6" fill="#78390e" fill-opacity="0.52"/>
<rect x="392.6" y="1042.3" width="9.6" height="9.6" fill="#78390e" fill-opacity="0.52"/>
<rect x="390.5" y="1044" width="9.6" height="9.6" fill="#78390e" fill-opacity="0.52"/>
<rect x="390.1" y="1045" width="9.6" height="9.6" fill="#78390e" fill-opacity="0.52"/>
<rect x="383.8" y="1046" width="9.6" height="9.6" fill="#78390e" fill-opacity="0.52"/>
<rect x="389.9" y="1048.1" width="9.6" height="9.6" fill="#78390e" fill-opacity="0.52"/>
<rect x="380.9" y="1049.1" width="9.6" height="9.6" fill="#78390e" fill-opacity="0.52"/>
<rect x="382.6" y="1050.2" width="9.6" height="9.6" fill="#78390e" fill-opacity="0.52"/>
<rect x="391" y="1051.6" width="9.6" height="9.6" fill="#78390e" fill-opacity="0.52"/>
<rect x="392.1" y="1052.8" width="9.6" height="9.6" fill="#78390e" fill-opacity="0.52"/>
<rect x="380.5" y="1055" width="9.6" height="9.6" fill="#78390e" fill-opacity="0.52"/>
<rect x="386.6" y="1055.7" width="9.6" height="9.6" fill="#78390e" fill-opacity="0.52"/>
<rect x="385.6" y="1056.6" width="9.6" height="9.6" fill="#78390e" fill-opacity="0.52"/>
<rect x="381.3" y="1059.1" width="9.6" height="9.6" fill="#78390e" fill-opacity="0.52"/>
<rect x="381.4" y="1060" width="9.6" height="9.6" fill="#78390e" fill-opacity="0.52"/>
<rect x="392.2" y="1061.3" width="9.6" height="9.6" fill="#78390e" fill-opacity="0.52"/>
<rect x="379.8" y="1062.1" width="9.6" height="9.6" fill="#78390e" fill-opacity="0.52"/>
<rect x="387.3" y="1063.3" width="9.6" height="9.6" fill="#78390e" fill-opacity="0.52"/>
<rect x="380.9" y="1064.6" width="9.6" height="9.6" fill="#78390e" fill-opacity="0.52"/>
<rect x="392.6" y="1066.5" width="9.6" height="9.6" fill="#78390e" fill-opacity="0.52"/>
<rect x="385.3" y="1067.8" width="9.6" height="9.6" fill="#78390e" fill-opacity="0.52"/>
<rect x="381" y="1069.4" width="9.6" height="9.6" fill="#78390e" fill-opacity="0.52"/>
<rect x="382.1" y="1070.6" width="9.6" height="9.6" fill="#78390e" fill-opacity="0.52"/>
<rect x="393.1" y="1072" width="9.6" height="9.6" fill="#78390e" fill-opacity="0.52"/>
<rect x="387.5" y="1072.6" width="9.6" height="9.6" fill="#78390e" fill-opacity="0.52"/>
<rect x="381.8" y="1074.7" width="9.6" height="9.6" fill="#78390e" fill-opacity="0.52"/>
<rect x="373.9" y="1048.1" width="36.6" height="18.8" fill="none" stroke="#78390e" stroke-width="2"/>
<line x1="373.9" y1="1061.1" x2="410.5" y2="1061.1" stroke="#78390e" stroke-width="2"/>
<path d="M392 1040.8L398.2 1047L392 1053.2L385.8 1047Z" fill="none" stroke="#78390e" stroke-width="1"/>
<line x1="449.2" y1="999.1" x2="449.2" y2="1031.4" stroke="#f0228f" stroke-width="2"/>
<line x1="449.2" y1="1062.8" x2="449.2" y2="1080.5" stroke="#f0228f" stroke-width="2"/>
<rect x="447.6" y="900.3" width="9.6" height="9.6" fill="#f0228f" fill-opacity="0.55"/>
<rect x="444.8" y="958.4" width="9.6" height="9.6" fill="#f0228f" fill-opacity="0.55"/>
<rect x="446.9" y="994.3" width="9.6" height="9.6" fill="#f0228f" fill-opacity="0.55"/>
<rect x="440.7" y="1006.2" width="9.6" height="9.6" fill="#f0228f" fill-opacity="0.55"/>
<rect x="453.2" y="1013.1" width="9.6" height="9.6" fill="#f0228f" fill-opacity="0.55"/>
<rect x="444.2" y="1018.2" width="9.6" height="9.6" fill="#f0228f" fill-opacity="0.55"/>
<rect x="448.2" y="1024.2" width="9.6" height="9.6" fill="#f0228f" fill-opacity="0.55"/>
<rect x="441.7" y="1030.2" width="9.6" height="9.6" fill="#f0228f" fill-opacity="0.55"/>
<rect x="445.2" y="1034.2" width="9.6" height="9.6" fill="#f0228f" fill-opacity="0.55"/>
<rect x="444.3" y="1036.3" width="9.6" height="9.6" fill="#f0228f" fill-opacity="0.55"/>
<rect x="441.7" y="1038.4" width="9.6" height="9.6" fill="#f0228f" fill-opacity="0.55"/>
<rect x="449.1" y="1040.8" width="9.6" height="9.6" fill="#f0228f" fill-opacity="0.55"/>
<rect x="441.1" y="1042.5" width="9.6" height="9.6" fill="#f0228f" fill-opacity="0.55"/>
<rect x="443.1" y="1044.2" width="9.6" height="9.6" fill="#f0228f" fill-opacity="0.55"/>
<rect x="450.6" y="1045.7" width="9.6" height="9.6" fill="#f0228f" fill-opacity="0.55"/>
<rect x="439.7" y="1049.2" width="9.6" height="9.6" fill="#f0228f" fill-opacity="0.55"/>
<rect x="446.4" y="1050.9" width="9.6" height="9.6" fill="#f0228f" fill-opacity="0.55"/>
<rect x="442.6" y="1052" width="9.6" height="9.6" fill="#f0228f" fill-opacity="0.55"/>
<rect x="444.7" y="1054.5" width="9.6" height="9.6" fill="#f0228f" fill-opacity="0.55"/>
<rect x="447.1" y="1056.6" width="9.6" height="9.6" fill="#f0228f" fill-opacity="0.55"/>
<rect x="448.4" y="1057.5" width="9.6" height="9.6" fill="#f0228f" fill-opacity="0.55"/>
<rect x="450.8" y="1061.5" width="9.6" height="9.6" fill="#f0228f" fill-opacity="0.55"/>
<rect x="439.7" y="1062.9" width="9.6" height="9.6" fill="#f0228f" fill-opacity="0.55"/>
<rect x="440.8" y="1063.7" width="9.6" height="9.6" fill="#f0228f" fill-opacity="0.55"/>
<rect x="442.8" y="1067.9" width="9.6" height="9.6" fill="#f0228f" fill-opacity="0.55"/>
<rect x="450" y="1068.8" width="9.6" height="9.6" fill="#f0228f" fill-opacity="0.55"/>
<rect x="445.8" y="1070.9" width="9.6" height="9.6" fill="#f0228f" fill-opacity="0.55"/>
<rect x="440" y="1073.3" width="9.6" height="9.6" fill="#f0228f" fill-opacity="0.55"/>
<rect x="449.3" y="1075.8" width="9.6" height="9.6" fill="#f0228f" fill-opacity="0.55"/>
<rect x="430.9" y="1031.4" width="36.6" height="31.4" fill="none" stroke="#f0228f" stroke-width="2"/>
<line x1="430.9" y1="1051.9" x2="467.5" y2="1051.9" stroke="#f0228f" stroke-width="2"/>
<path d="M449.2 1034.6L455.4 1040.8L449.2 1047L443 1040.8Z" fill="none" stroke="#f0228f" stroke-width="1"/>
<rect x="562.9" y="1061" width="9.6" height="9.6" fill="#55dcc8" fill-opacity="0.58"/>
<rect x="557.8" y="1066" width="9.6" height="9.6" fill="#55dcc8" fill-opacity="0.58"/>
<rect x="556.6" y="1072.5" width="9.6" height="9.6" fill="#55dcc8" fill-opacity="0.58"/>
<rect x="560.4" y="1068.7" width="9.6" height="9.6" fill="#55dcc8" fill-opacity="0.58"/>
<rect x="544.9" y="1068.4" width="36.6" height="8.9" fill="none" stroke="#55dcc8" stroke-width="2"/>
<line x1="544.9" y1="1072.7" x2="581.5" y2="1072.7" stroke="#55dcc8" stroke-width="2"/>
<path d="M563.9 1066.5L570.1 1072.7L563.9 1078.9L557.7 1072.7Z" fill="none" stroke="#55dcc8" stroke-width="1"/>
<line x1="620.2" y1="1031.5" x2="620.2" y2="1041.7" stroke="#7d1ff0" stroke-width="2"/>
<rect x="616.2" y="954.4" width="9.6" height="9.6" fill="#7d1ff0" fill-opacity="0.55"/>
<rect x="613.7" y="1026.7" width="9.6" height="9.6" fill="#7d1ff0" fill-opacity="0.55"/>
<rect x="620.1" y="1036.9" width="9.6" height="9.6" fill="#7d1ff0" fill-opacity="0.55"/>
<rect x="615" y="1042" width="9.6" height="9.6" fill="#7d1ff0" fill-opacity="0.55"/>
<rect x="616.2" y="1045.7" width="9.6" height="9.6" fill="#7d1ff0" fill-opacity="0.55"/>
<rect x="613.7" y="1059.8" width="9.6" height="9.6" fill="#7d1ff0" fill-opacity="0.55"/>
<rect x="617.5" y="1064.8" width="9.6" height="9.6" fill="#7d1ff0" fill-opacity="0.55"/>
<rect x="618.8" y="1068.7" width="9.6" height="9.6" fill="#7d1ff0" fill-opacity="0.55"/>
<rect x="615.2" y="1063.2" width="9.6" height="9.6" fill="#7d1ff0" fill-opacity="0.55"/>
<rect x="601.9" y="1041.7" width="36.6" height="27.9" fill="none" stroke="#7d1ff0" stroke-width="2"/>
<line x1="601.9" y1="1048.8" x2="638.5" y2="1048.8" stroke="#7d1ff0" stroke-width="2"/>
<path d="M621 1039.3L627.2 1045.5L621 1051.7L614.8 1045.5Z" fill="none" stroke="#7d1ff0" stroke-width="1"/>
</g>
<text x="392.2" y="1012.6" font-size="20" text-anchor="middle" fill="#111">A</text>
<text x="449.5" y="986.6" font-size="20" text-anchor="middle" fill="#111">A</text>
<text x="564.3" y="1053.1" font-size="20" text-anchor="middle" fill="#111">A</text>
<text x="621.9" y="1016.3" font-size="20" text-anchor="middle" fill="#111">A</text>
<text x="394.05" y="1105.4" font-size="20" text-anchor="middle" fill="#78390e"><tspan font-style="italic">n</tspan> = 37</text>
<text x="452.2" y="1105.4" font-size="20" text-anchor="middle" fill="#f0228f"><tspan font-style="italic">n</tspan> = 29</text>
<text x="508.05" y="1105.4" font-size="20" text-anchor="middle" fill="#d9a935"><tspan font-style="italic">n</tspan> = 0</text>
<text x="563.65" y="1105.4" font-size="20" text-anchor="middle" fill="#55dcc8"><tspan font-style="italic">n</tspan> = 4</text>
<text x="622.35" y="1105.4" font-size="20" text-anchor="middle" fill="#7d1ff0"><tspan font-style="italic">n</tspan> = 9</text>
<rect x="363.4" y="901.8" width="285.5" height="209.9" fill="none" stroke="#1c1c1c" stroke-width="1.8"/>
<line x1="392.2" y1="1111.7" x2="392.2" y2="1108.1" stroke="#1c1c1c" stroke-width="1.5"/>
<line x1="449.2" y1="1111.7" x2="449.2" y2="1108.1" stroke="#1c1c1c" stroke-width="1.5"/>
<line x1="506.2" y1="1111.7" x2="506.2" y2="1108.1" stroke="#1c1c1c" stroke-width="1.5"/>
<line x1="563.2" y1="1111.7" x2="563.2" y2="1108.1" stroke="#1c1c1c" stroke-width="1.5"/>
<line x1="620.2" y1="1111.7" x2="620.2" y2="1108.1" stroke="#1c1c1c" stroke-width="1.5"/>
<line x1="648.9" y1="1080.5" x2="645.3" y2="1080.5" stroke="#1c1c1c" stroke-width="1.5"/>
<text x="653.6" y="1086.5" font-size="20" fill="#111">0</text>
<line x1="648.9" y1="1035.8" x2="645.3" y2="1035.8" stroke="#1c1c1c" stroke-width="1.5"/>
<text x="653.6" y="1041.8" font-size="20" fill="#111">20</text>
<line x1="648.9" y1="991.1" x2="645.3" y2="991.1" stroke="#1c1c1c" stroke-width="1.5"/>
<text x="653.6" y="997.1" font-size="20" fill="#111">40</text>
<line x1="648.9" y1="946.4" x2="645.3" y2="946.4" stroke="#1c1c1c" stroke-width="1.5"/>
<text x="653.6" y="952.4" font-size="20" fill="#111">60</text>
<text x="653.6" y="907.7" font-size="20" fill="#111">80</text>
<text x="643.9" y="920.5" font-size="20" font-weight="normal" text-anchor="end" fill="#111">(j)</text>
<text transform="translate(21,125.85) rotate(-90)" font-size="20.3" font-weight="bold" text-anchor="middle" fill="#111">SC stock (Mg C ha<tspan font-size="14.2" dy="-8.3">-1</tspan><tspan dy="8.3">)</tspan></text>
<text transform="translate(21,348) rotate(-90)" font-size="20.3" font-weight="bold" text-anchor="middle" fill="#111">SOC stock (Mg C ha<tspan font-size="14.2" dy="-8.3">-1</tspan><tspan dy="8.3">)</tspan></text>
<text transform="translate(21,568.6) rotate(-90)" font-size="20.3" font-weight="bold" text-anchor="middle" fill="#111">SN stock (Mg N ha<tspan font-size="14.2" dy="-8.3">-1</tspan><tspan dy="8.3">)</tspan></text>
<text transform="translate(21,787) rotate(-90)" font-size="20.3" font-weight="bold" text-anchor="middle" fill="#111">AGBC stock (Mg C ha<tspan font-size="14.2" dy="-8.3">-1</tspan><tspan dy="8.3">)</tspan></text>
<text transform="translate(21,1007.2) rotate(-90)" font-size="20.3" font-weight="bold" text-anchor="middle" fill="#111">BGBC stock (Mg C ha<tspan font-size="14.2" dy="-8.3">-1</tspan><tspan dy="8.3">)</tspan></text>
<text x="98.8" y="1132" font-size="20" text-anchor="middle" fill="#111">VR</text>
<text x="155.9" y="1132" font-size="20" text-anchor="middle" fill="#111">RA</text>
<text x="213" y="1132" font-size="20" text-anchor="middle" fill="#111">SM</text>
<text x="270.1" y="1132" font-size="20" text-anchor="middle" fill="#111">TC</text>
<text x="327.2" y="1132" font-size="20" text-anchor="middle" fill="#111">TM</text>
<text x="392.2" y="1132" font-size="20" text-anchor="middle" fill="#111">VR</text>
<text x="449.2" y="1132" font-size="20" text-anchor="middle" fill="#111">RA</text>
<text x="506.2" y="1132" font-size="20" text-anchor="middle" fill="#111">SM</text>
<text x="563.2" y="1132" font-size="20" text-anchor="middle" fill="#111">IE</text>
<text x="620.2" y="1132" font-size="20" text-anchor="middle" fill="#111">HR</text>
</svg></body></html>
